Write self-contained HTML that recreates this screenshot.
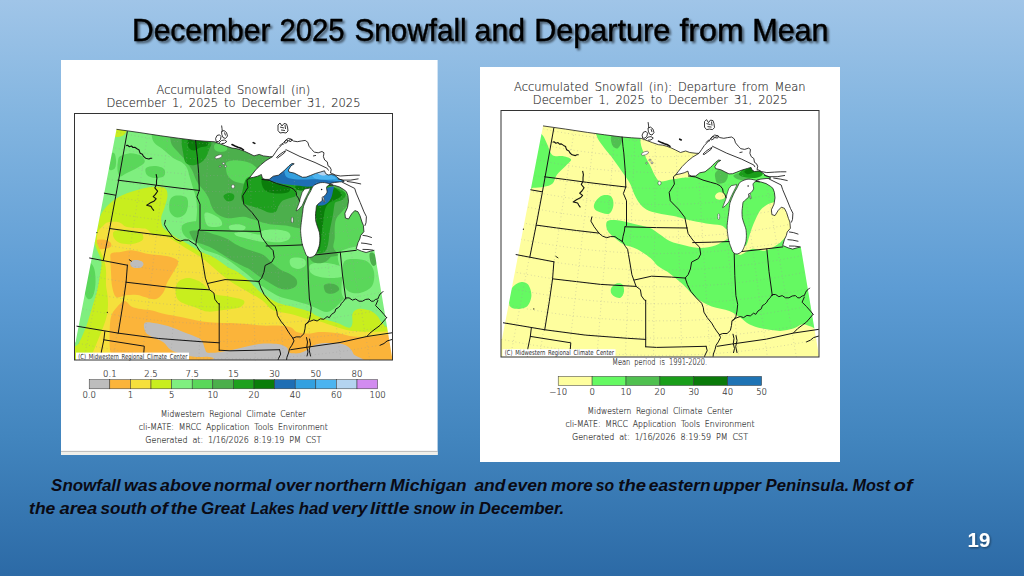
<!DOCTYPE html>
<html><head><meta charset="utf-8"><title>December 2025 Snowfall and Departure from Mean</title>
<style>
html,body{margin:0;padding:0;width:1024px;height:576px;overflow:hidden;background:#5a8fc8}
svg{display:block}
.g{font-family:"DejaVu Sans",sans-serif;font-weight:200;fill:#111;stroke:#444;stroke-width:0.16px;word-spacing:2.5px}
</style></head><body>
<svg width="1024" height="576" viewBox="0 0 1024 576">
<defs>
 <linearGradient id="bg" x1="0" y1="0" x2="0" y2="1">
  <stop offset="0" stop-color="#a0c5e8"/>
  <stop offset="0.2" stop-color="#83b5e0"/>
  <stop offset="0.5" stop-color="#5d9cd4"/>
  <stop offset="0.76" stop-color="#4285be"/>
  <stop offset="1" stop-color="#2c6aa6"/>
 </linearGradient>
 <filter id="tsh" x="-5%" y="-30%" width="110%" height="160%">
  <feGaussianBlur in="SourceAlpha" stdDeviation="1"/>
  <feOffset dx="1.5" dy="1.5" result="b"/>
  <feFlood flood-color="#000" flood-opacity="0.55"/>
  <feComposite in2="b" operator="in"/>
  <feMerge><feMergeNode/><feMergeNode in="SourceGraphic"/></feMerge>
 </filter>
 <filter id="nsh" x="-20%" y="-20%" width="140%" height="140%">
  <feGaussianBlur in="SourceAlpha" stdDeviation="0.8"/>
  <feOffset dx="1" dy="1" result="b"/>
  <feFlood flood-color="#000" flood-opacity="0.45"/>
  <feComposite in2="b" operator="in"/>
  <feMerge><feMergeNode/><feMergeNode in="SourceGraphic"/></feMerge>
 </filter>
</defs>
<rect width="1024" height="576" fill="url(#bg)"/>

<!-- slide title -->
<g id="title" font-family="Liberation Sans, sans-serif" font-size="30.5" fill="#000" stroke="#000" stroke-width="0.45" filter="url(#tsh)">
<text x="132.00" y="40.6" textLength="138.40" lengthAdjust="spacingAndGlyphs">December</text>
<text x="279.40" y="40.6" textLength="65.20" lengthAdjust="spacingAndGlyphs">2025</text>
<text x="354.40" y="40.6" textLength="112.20" lengthAdjust="spacingAndGlyphs">Snowfall</text>
<text x="474.60" y="40.6" textLength="50.40" lengthAdjust="spacingAndGlyphs">and</text>
<text x="534.20" y="40.6" textLength="136.00" lengthAdjust="spacingAndGlyphs">Departure</text>
<text x="679.40" y="40.6" textLength="64.40" lengthAdjust="spacingAndGlyphs">from</text>
<text x="752.20" y="40.6" textLength="76.40" lengthAdjust="spacingAndGlyphs">Mean</text>
</g>

<!-- LEFT PANEL -->
<rect x="61" y="60" width="376.6" height="395" fill="#fff"/>
<rect x="61" y="450.9" width="376.6" height="0.9" fill="#a4a4a4"/>
<rect x="61" y="451.8" width="376.6" height="3.1" fill="#efefea"/>
<text class="g" x="156.6" y="94.3" font-size="12.8" textLength="153.7" lengthAdjust="spacingAndGlyphs">Accumulated Snowfall (in)</text>
<text class="g" x="106.4" y="106.7" font-size="12.8" textLength="254.1" lengthAdjust="spacingAndGlyphs">December 1, 2025 to December 31, 2025</text>
<g id="mapL"><clipPath id="mLc"><path d="M116.5,129.3 139.1,132.5 160.8,135.8 178.2,138.2 195.6,140.4 205,141.2 214.6,141.8 220.6,144 225.8,146 232,148.1 236.3,148.6 240.4,149.7 244.6,151.3 248.8,153.3 254,155.9 259.2,154.4 263.3,155.9 269.6,156.7 272.5,156.7 266,160.6 260.8,164.8 255.6,170 251.5,175.2 249.4,178.1 253.5,177.3 257.7,176.2 261.4,174.5 262.4,178.3 265,179.4 269.2,179.4 273.3,176.2 278.5,175.2 283.8,171 285.8,169 289,165.8 292,163.5 294.2,163.8 291,165.8 288.4,170 289,172 294.2,173.1 298.3,175.2 302.5,177.3 306.2,177.1 310.4,175.5 315.6,173.4 320.8,171.9 324.5,170.8 325.5,173.4 328.1,175 331.2,174.5 334.4,175 336.5,176.6 339.6,179.2 343.8,180.7 344,181.8 339.6,181.9 334.4,182.5 330.2,183.4 329.5,184.8 334.4,185.4 339.6,187 343.8,189.6 346.4,191.7 347.9,195.8 348.5,201.2 347.5,207.5 344.9,213.2 345.4,218 348.5,219 351.7,213.8 354.8,210.6 357.9,211.7 360,215.8 362,222 363.4,225.4 363.9,231.7 360.7,235.4 359.8,239 358,242.6 356.2,248.9 361.6,251.2 366.1,252.5 370.6,251.2 374.3,250.3 392.3,358.5 392.5,360.5 74.5,360.5 74.5,342.5 75.5,342.5Z"/></clipPath>
<clipPath id="mLf"><rect x="74.5" y="113.5" width="318" height="246.6"/></clipPath>
<g clip-path="url(#mLf)">
<rect x="70" y="110" width="330" height="255" fill="#fbb43a"/>
<path d="M144.3,323.5C145.4,321.9 148.1,322.3 152,322.7C155.9,323.1 162.7,324.4 168,326C173.3,327.6 179.5,330.6 184,332.3C188.5,334.1 192.3,335.4 195,336.5C197.7,337.6 198.6,337.7 199.9,338.7C201.2,339.7 202,341 202.8,342.6C203.6,344.2 204.1,346.8 204.8,348.4C205.5,350 205.8,351.8 207,352.5C208.2,353.2 210.1,352.8 212,352.8C213.9,352.8 214.7,352.9 218.4,352.3C222.1,351.7 228.9,350.4 234,349.4C239.1,348.3 243.8,347 248.7,346C253.6,345 258.5,343.9 263.4,343.6C268.3,343.3 274.1,343.4 278,344C281.9,344.6 285,346.1 286.8,347.5C288.6,348.9 287.8,351.3 288.8,352.3C289.7,353.3 290.8,353.2 292.7,353.3C294.6,353.4 297.6,353.6 300,353C302.4,352.4 304.7,351.3 307,350C309.3,348.7 310.8,346.4 313.8,345.3C316.8,344.2 320.5,343.4 324.9,343.1C329.3,342.8 336.3,342.8 340.3,343.5C344.3,344.2 346.9,345.7 349.1,347.5C351.3,349.3 352.6,351.4 353.5,354.1C354.4,356.9 377.9,362.4 354.6,364C331.4,365.6 237.4,364.9 214,364C190.6,363.1 215.2,359.7 214,358.5C212.8,357.3 209.8,357.1 207,356.8C204.2,356.6 200.8,357.3 197,357C193.2,356.7 188.3,356.2 184,355C179.7,353.8 174.5,352.2 171,350C167.5,347.8 166.2,344.2 163,342C159.8,339.8 154.9,338.6 152,337C149.1,335.4 146.9,334.6 145.6,332.3C144.3,330.1 143.2,325.1 144.3,323.5Z" fill="#bdbdbd"/>
<path d="M60,365C68.7,410.8 103.7,367.5 112,365C120.3,362.5 110.4,355 110,350C109.6,345 109.4,340.4 109.6,335C109.8,329.6 109.8,321.8 110.9,317.3C112,312.8 114.1,310.5 116.4,307.8C118.7,305.1 122.1,301.2 124.6,301C127.1,300.8 128.7,305 131.4,306.4C134.1,307.8 137.6,308.4 141,309.1C144.4,309.8 148.6,309.8 152,310.5C155.4,311.2 157.6,312.3 161.5,313.2C165.4,314.1 170.6,315.1 175.2,316C179.8,316.9 184.3,317.8 188.9,318.7C193.5,319.6 197.9,320.7 202.5,321.4C207.1,322.1 211.4,322.5 216.2,322.8C221,323.1 226.1,322.8 231.2,323C236.4,323.2 241.7,323.6 246.9,324C252.1,324.4 257.3,325.3 262.5,325.6C267.7,325.9 273.4,325.3 278.1,325.6C282.8,325.9 287.5,326.1 290.6,327.2C293.7,328.2 293.8,330.9 296.9,331.9C300,332.9 305.5,333.4 309.4,333.4C313.2,333.4 315.2,331.9 320,331.9C324.8,331.9 332.5,332.4 338.1,333.2C343.7,334 348,335.9 353.5,336.5C359,337.1 364.8,336.9 371.2,336.5C377.6,336.1 382.2,334.7 392,334.3C401.8,333.9 423.7,374.7 430,334C436.3,293.3 491.7,130.7 430,90C368.3,49.3 121.7,44.2 60,90C-1.7,135.8 51.3,319.2 60,365Z" fill="#f5e03c"/>
<path d="M111.2,253.4C112.9,252.1 117.2,252.4 120.6,251.9C124,251.4 127.4,250.1 131.6,250.3C135.8,250.6 141.2,252.6 145.6,253.4C150,254.2 154.1,254.5 158,255C161.9,255.5 165.8,255.8 169,256.6C172.2,257.4 175.4,258.5 176.9,259.7C178.4,260.9 178.4,262 177.8,264C177.2,266 175.4,268.7 173.6,271.8C171.8,274.9 169,278.9 167.2,282.4C165.4,285.9 165.1,290.2 163,293C160.9,295.8 158.7,298.9 154.5,299.3C150.3,299.7 142.2,295.8 137.6,295.1C133,294.4 130.5,294.8 127,295.1C123.5,295.5 118.9,298.6 116.4,297.2C113.9,295.8 113,290.8 112.1,286.6C111.2,282.4 111.3,276.2 111,271.8C110.7,267.4 110.5,263.1 110.5,260C110.5,256.9 109.6,254.8 111.2,253.4Z" fill="#fbb43a"/>
<path d="M95,241C96,239.5 100.5,239.3 103,239.5C105.5,239.7 108.7,240.8 110,242C111.3,243.2 111.8,245.4 111,246.5C110.2,247.6 107.3,248.5 105,248.8C102.7,249.1 98.7,249.8 97,248.5C95.3,247.2 94,242.5 95,241Z" fill="#fbb43a"/>
<path d="M130.5,262C131.2,261 133.2,260.2 135,260C136.8,259.8 139.6,260.3 141,261C142.4,261.7 143.5,262.9 143.5,264C143.5,265.1 142.4,266.8 141,267.5C139.6,268.2 136.7,268.2 135,268C133.3,267.8 131.8,267 131,266C130.2,265 129.8,263 130.5,262Z" fill="#bdbdbd"/>
<path d="M60,365C65,410.8 84.7,366.7 90,365C95.3,363.3 91,358.3 92,355C93,351.7 94.7,348.3 96,345C97.3,341.7 98.7,338.3 100,335C101.3,331.7 102.8,328.3 104,325C105.2,321.7 106.3,318.3 107,315C107.7,311.7 107.9,308.3 108,305C108.1,301.7 107.8,298.3 107.5,295C107.2,291.7 106.2,289.2 106,285C105.8,280.8 106.3,274.2 106,270C105.7,265.8 105,263.3 104,260C103,256.7 101.2,253 100,250C98.8,247 97.3,245 97,242C96.7,239 97,234.7 98,232C99,229.3 101.3,227.6 103,226C104.7,224.4 105.4,222.8 108.1,222.2C110.8,221.6 115.9,221.4 119,222.2C122.1,223 123,225.9 126.9,226.9C130.8,227.9 139.1,228 142.5,228.4C145.9,228.8 145.4,228.4 147.2,229.5C149,230.6 150.3,233.6 153.4,234.7C156.5,235.8 162.1,234.9 166,236.2C169.9,237.6 173,240.2 176.9,242.5C180.8,244.8 185.6,248 189.4,250.3C193.2,252.7 197.2,254.7 200,256.6C202.8,258.5 203.9,259.4 206.5,261.5C209.1,263.6 211.5,266 215.6,269.4C219.7,272.8 226,278.3 231.2,281.9C236.5,285.5 241.7,288.1 246.9,291.2C252.1,294.4 258.6,297.7 262.5,300.6C266.4,303.5 267.7,306.6 270.3,308.4C272.9,310.2 274.2,310.6 278.1,311.6C282,312.7 288.5,313.4 293.8,314.7C299,316 305,318.3 309.4,319.4C313.8,320.5 315.7,320.3 320,321.5C324.3,322.7 330.2,325 335,326.5C339.8,328 344.8,329.7 349,330.5C353.2,331.3 356.3,331.3 360,331.5C363.7,331.7 365.7,331.8 371,331.8C376.3,331.8 382.2,331.6 392,331.5C401.8,331.4 423.7,371.2 430,331C436.3,290.8 491.7,130.2 430,90C368.3,49.8 121.7,44.2 60,90C-1.7,135.8 55,319.2 60,365Z" fill="#c8ee1e"/>
<path d="M114,231.5C115.8,230.1 121.5,229.6 125,229.5C128.5,229.4 132.2,230.2 135,231C137.8,231.8 140.8,232.5 142,234C143.2,235.5 144.2,238.3 142.5,240C140.8,241.7 135.8,243.5 132,244C128.2,244.5 123,244 120,243C117,242 115,239.9 114,238C113,236.1 112.2,232.9 114,231.5Z" fill="#c8ee1e"/>
<path d="M177.8,282.4C179.9,279.9 184.5,278.1 188.4,278.1C192.3,278.1 197.8,280.6 201.1,282.4C204.4,284.2 205.6,287 208,289C210.4,291 211.7,293.2 215.6,294.5C219.5,295.8 226.6,296 231.2,297C235.9,298 242.2,299 243.8,300.6C245.3,302.2 244,305.3 240.6,306.9C237.2,308.5 228.9,309.2 223.4,310C217.9,310.8 212.2,311.9 207.8,311.6C203.4,311.3 201.5,309.7 196.9,308C192.3,306.3 183.5,304 180,301.5C176.5,299 176.1,296.2 175.7,293C175.3,289.8 175.7,284.9 177.8,282.4Z" fill="#c8ee1e"/>
<path d="M60,350C62.6,392.7 72.1,347.7 75.5,346C78.9,344.3 78.5,343.5 80.4,340C82.3,336.5 84.9,330 86.7,325C88.5,320 90,314.5 91.4,310C92.8,305.5 94,301.3 95,298C96,294.7 96.5,293.8 97.3,290C98.1,286.2 99.3,279.7 100,275C100.7,270.3 101.8,265.8 101.5,262C101.2,258.2 99.1,255 98,252C96.9,249 95.3,246.8 95,244C94.7,241.2 95.5,238 96,235C96.5,232 97.3,229.2 98,226C98.7,222.8 98.9,219.1 100.3,215.9C101.7,212.7 104,209.5 106.6,206.6C109.2,203.7 112.5,201 115.9,198.8C119.3,196.5 123,194.9 126.9,193.3C130.8,191.7 135.2,190.5 139.4,189.4C143.6,188.3 147.7,187.3 151.9,187C156.1,186.7 161.8,186.4 164.4,187.8C167,189.2 167.5,192.2 167.5,195.6C167.5,199 165.4,204.4 164.4,208.1C163.4,211.8 161.5,214.4 161.2,217.5C161,220.6 161.3,224.3 162.8,226.9C164.3,229.5 167.8,231.5 170,233.3C172.2,235.1 173.7,235.9 176.2,237.5C178.8,239.1 182.3,240.8 185.6,242.7C188.9,244.6 193.2,247.3 196,249C198.8,250.7 199.7,251.4 202.3,252.6C204.9,253.8 208.8,254.8 211.7,256.2C214.6,257.7 217.2,259.6 220,261.5C222.8,263.4 225.5,265.8 228.3,267.5C231.1,269.2 233.6,269.6 236.7,271.5C239.8,273.4 243.8,276.4 246.9,279C250,281.6 252.4,284.6 255,287C257.6,289.4 258.6,290.8 262.5,293.5C266.4,296.2 272.9,300.8 278.1,303C283.3,305.2 288.5,305.5 293.8,306.9C299,308.3 305.7,310.2 309.4,311.6C313.1,313 313.1,314.1 316,315.5C318.9,316.9 323.3,318.7 327,320C330.7,321.3 334.4,321.9 338.1,323.2C341.8,324.5 346.7,327.7 349.1,327.7C351.5,327.7 351.8,325.4 352.4,323.2C352.9,321 351.8,316.6 352.4,314.4C352.9,312.2 354,310.9 355.7,310C357.4,309.1 359.8,308.7 362.4,308.9C365,309.1 368.6,309.8 371.2,311.1C373.8,312.4 376,314.6 377.8,316.6C379.6,318.6 379.8,321.3 382.2,323.2C384.6,325.1 384,327.2 392,328C400,328.8 423.7,367.7 430,328C436.3,288.3 491.7,129.7 430,90C368.3,50.3 121.7,46.7 60,90C-1.7,133.3 57.4,307.3 60,350Z" fill="#7fef7f"/>
<path d="M112,127C114.3,126 123.8,127 126,128C128.2,129 126.2,131.7 125.5,133C124.8,134.3 123.6,135.3 122,136C120.4,136.7 117.7,137.3 116,137C114.3,136.7 112.7,135.7 112,134C111.3,132.3 109.7,128 112,127Z" fill="#c8ee1e"/>
<path d="M151.9,125C151.9,132.8 151.4,133.8 151.9,136.8C152.4,139.9 153.3,141.5 154.8,143.3C156.2,145.1 158.3,145.9 160.5,147.6C162.7,149.3 165.3,151.5 167.7,153.4C170.1,155.3 172.6,157.6 175,159.1C177.4,160.6 180,161 182,162.5C184,164 185.7,165.4 187,168C188.3,170.6 189,174.7 190,178C191,181.3 192,184.7 193,188C194,191.3 195.3,194.3 196,198C196.7,201.7 197,206 197,210C197,214 196.5,218.3 196,222C195.5,225.7 194,229 194,232C194,235 195.1,237.7 196,240C196.9,242.3 197.8,244.1 199.2,245.8C200.6,247.5 202,248.8 204.4,250C206.8,251.2 210.8,252 213.8,253.1C216.7,254.2 219.1,255 222,256.5C224.9,258 228.2,260.1 231,262C233.8,263.9 236.3,266 239,268C241.7,270 244.2,271.8 246.9,274C249.6,276.2 252.4,278.9 255,281C257.6,283.1 258.6,284.1 262.5,286.6C266.4,289.1 272.9,293.7 278.1,296C283.3,298.3 288.5,299.1 293.8,300.6C299,302.2 305.4,303.9 309.4,305.3C313.4,306.7 315.1,307.9 318,309C320.9,310.1 324,312.3 327,312C330,311.7 333.2,309.2 336,307C338.8,304.8 341.1,301.1 344,299C346.9,296.9 349.7,296.1 353.5,294.6C357.3,293.1 362.8,291.5 366.8,290C370.9,288.5 373.6,286 377.8,285.7C382,285.4 383.3,287.6 392,288C400.7,288.4 423.7,321 430,288C436.3,255 476.4,123 430,90C383.6,57 198.2,84.2 151.9,90C105.6,95.8 151.9,117.2 151.9,125Z" fill="#5ad75a"/>
<path d="M120,156.3C121.8,155 126.1,153.8 128.8,153.4C131.5,153 133.8,153.5 136,154C138.2,154.5 140.4,155 141.8,156.3C143.2,157.6 145.4,160.1 144.7,162C144,163.9 140.5,165.9 137.4,167.8C134.3,169.7 128.8,172.2 125.9,173.6C123,175 121.5,177 120.1,176.4C118.7,175.8 117.8,172.6 117.5,170C117.2,167.4 117.6,163.3 118,161C118.4,158.7 118.2,157.6 120,156.3Z" fill="#5ad75a"/>
<path d="M109,155C110.2,153.3 112.8,152.2 114,153C115.2,153.8 115.8,157.5 116,160C116.2,162.5 116,166.3 115,168C114,169.7 111.3,170.8 110,170C108.7,169.2 107.2,165.5 107,163C106.8,160.5 107.8,156.7 109,155Z" fill="#5ad75a"/>
<path d="M146,168C147.3,166.5 152,165.8 155,166C158,166.2 162.5,167.3 164,169C165.5,170.7 165.5,174.5 164,176C162.5,177.5 157.8,178.2 155,178C152.2,177.8 148.5,176.7 147,175C145.5,173.3 144.7,169.5 146,168Z" fill="#5ad75a"/>
<path d="M170,200C171,197.3 173.3,196.1 176,195.6C178.7,195.1 184,195.4 186,197C188,198.6 188.2,202.2 188,205C187.8,207.8 186.8,211.9 185,214C183.2,216.1 179.5,217.8 177,217.5C174.5,217.2 171.2,214.9 170,212C168.8,209.1 169,202.7 170,200Z" fill="#5ad75a"/>
<path d="M182,226C183,223.8 187,222.5 190,222C193,221.5 198.3,220.3 200,223C201.7,225.7 201.3,235.2 200,238C198.7,240.8 194.7,240.5 192,240C189.3,239.5 185.7,237.3 184,235C182.3,232.7 181,228.2 182,226Z" fill="#5ad75a"/>
<path d="M88,262C89.7,261.3 92.8,264.5 94,268C95.2,271.5 95.7,278.3 95.5,283C95.3,287.7 94.2,293.3 93,296C91.8,298.7 89.5,300 88,299C86.5,298 84.7,294.5 84,290C83.3,285.5 83.3,276.7 84,272C84.7,267.3 86.3,262.7 88,262Z" fill="#5ad75a"/>
<path d="M262,231C264.2,229.8 270.7,229.3 275,229.5C279.3,229.7 285.5,230.6 288,232C290.5,233.4 291,236.3 290,238C289,239.7 285.7,241.4 282,242C278.3,242.6 271.3,242.3 268,241.5C264.7,240.7 263,238.8 262,237C261,235.2 259.8,232.2 262,231Z" fill="#7fef7f"/>
<path d="M290.3,259C291.5,257.6 295.6,257.3 298,257.5C300.4,257.7 303.8,258.6 305,260C306.2,261.4 306.2,264.5 305,266C303.8,267.5 300.3,268.9 298,268.9C295.7,268.9 292.3,267.6 291,266C289.7,264.4 289.1,260.4 290.3,259Z" fill="#7fef7f"/>
<path d="M264,234C263,233 276.3,231.3 280,232C283.7,232.7 288.7,237.7 286,238C283.3,238.3 265,235 264,234Z" fill="#7fef7f"/>
<path d="M189.8,231.2C190.8,230.4 194.5,230.4 197,230.5C199.5,230.6 202.4,231 205,231.6C207.6,232.2 210.2,233.1 212.8,233.9C215.4,234.7 218,235.3 220.6,236.2C223.2,237.2 225.8,238 228.4,239.4C231,240.8 233.2,243 236,244.5C238.8,246 242.2,247.4 245,248.5C247.8,249.6 249.3,249.9 252.5,251C255.7,252.1 260.5,253 263.9,255.2C267.3,257.4 270.1,261.4 273.1,264C276.1,266.6 279.2,268.8 282,270.5C284.8,272.2 287.6,272.5 290,274C292.4,275.5 295.5,277.5 296.5,279.5C297.5,281.5 297.4,284.3 296,286C294.6,287.7 290.7,289.1 288,289.5C285.3,289.9 282.5,289.2 280,288.5C277.5,287.8 276.2,286.7 273.1,285C270,283.3 265.5,280.7 261.6,278.1C257.8,275.5 252.8,271.4 250,269.5C247.2,267.6 247.8,268.4 245,267C242.2,265.6 236.3,262.8 233,261C229.7,259.2 228.6,258.2 225,256C221.4,253.8 215.7,250 211.7,248C207.7,246 204,244.8 201.2,243.8C198.5,242.7 196.7,243.1 195,241.7C193.3,240.3 191.7,237.1 190.8,235.4C189.9,233.7 188.8,232.1 189.8,231.2Z" fill="#4caf4c"/>
<path d="M168,125C146.3,127.1 169.3,134.2 170,137.5C170.7,140.8 170.7,142.6 172,145C173.3,147.4 175.8,149.5 178,152C180.2,154.5 182.7,157 185,160C187.3,163 190.2,166.7 192,170C193.8,173.3 194.7,177.3 196,180C197.3,182.7 198.5,184 200,186C201.5,188 203.5,189.8 205,192C206.5,194.2 208,196.8 209,199C210,201.2 210.1,203 211,205C211.9,207 212.8,209.4 214.4,211.2C216,213.1 218.3,214.8 220.6,216C222.9,217.2 225.8,218.1 228.4,218.3C231,218.6 233.7,217.8 236.2,217.5C238.8,217.2 241.4,216.4 244,216.7C246.6,216.9 249.4,218.2 252,219C254.6,219.8 257.5,220.7 259.7,221.4C261.9,222.1 262.9,222.5 265,223C267.1,223.5 268.6,224.1 272,224.5C275.4,224.9 281,225 285.6,225.6C290.2,226.2 296.2,228.4 299.4,228.3C302.6,228.2 304.1,234.7 305,225C305.9,215.3 305.8,186.7 305,170C304.2,153.3 322.8,132.5 300,125C277.2,117.5 189.7,122.9 168,125Z" fill="#4caf4c"/>
<path d="M314,200C317.3,192.7 325.7,188.2 330,186C334.3,183.8 337.1,185.2 340,187C342.9,188.8 345.8,193.9 347.2,196.7C348.6,199.5 349.5,201 348.6,203.6C347.7,206.2 343.8,209.4 341.7,212C339.6,214.6 337.3,216.1 336.1,218.9C334.9,221.7 334.9,225.4 334.7,228.6C334.5,231.8 334.9,235.3 334.7,238.3C334.5,241.3 333.1,244.4 333.3,246.7C333.5,249 335.7,250.6 336.1,252.2C336.6,253.8 340.4,255.4 336,256C331.6,256.6 314.3,260.3 310,256C305.7,251.7 309.3,239.3 310,230C310.7,220.7 310.7,207.3 314,200Z" fill="#4caf4c"/>
<path d="M227,162C229,160.7 234.2,160.2 238,160.4C241.8,160.6 246.7,161.4 250,163C253.3,164.6 257,167.5 258,170C259,172.5 257.7,175.8 256,178C254.3,180.2 251.3,182.6 248,183.3C244.7,184 239.3,183.2 236,182C232.7,180.8 229.7,178.3 228,176C226.3,173.7 226.2,170.3 226,168C225.8,165.7 225,163.3 227,162Z" fill="#5ad75a"/>
<path d="M214.6,144.5C215.4,143.5 218.1,143.6 220,143.8C221.9,143.9 224.8,144.5 226,145.5C227.2,146.5 227.8,148.9 227,150C226.2,151.1 223,152 221,152C219,152 216.1,151.2 215,150C213.9,148.8 213.8,145.5 214.6,144.5Z" fill="#5ad75a"/>
<path d="M205,213C206.2,212 209.5,213 212,214C214.5,215 218.3,217.2 220,219C221.7,220.8 222.7,223.7 222,225C221.3,226.3 218.3,226.8 216,227C213.7,227.2 209.8,227.2 208,226C206.2,224.8 205.5,222.2 205,220C204.5,217.8 203.8,214 205,213Z" fill="#7fef7f"/>
<path d="M229.2,226C229.9,225.2 232,224.7 234,224.5C236,224.3 239.1,224.3 241,224.7C242.9,225.1 245.3,226 245.6,227C245.9,228 244.6,229.9 243,230.5C241.4,231.1 238.2,231 236,230.8C233.8,230.6 231.1,230.3 230,229.5C228.9,228.7 228.5,226.8 229.2,226Z" fill="#7fef7f"/>
<path d="M234.7,233C236,232.3 241.6,231.8 245,232C248.4,232.2 251.7,233.3 255,234C258.3,234.7 263.3,234.7 265,236C266.7,237.3 266.7,240.9 265,241.7C263.3,242.4 258.3,241.1 255,240.5C251.7,239.9 248,238.8 245,238C242,237.2 238.7,236.8 237,236C235.3,235.2 233.4,233.7 234.7,233Z" fill="#7fef7f"/>
<path d="M324,285.5C324.7,284 327.8,283.5 330,283.5C332.2,283.5 335.5,284.4 337,285.5C338.5,286.6 339.7,288.7 339,290C338.3,291.3 335.2,293.1 333,293.5C330.8,293.9 327.5,293.8 326,292.5C324.5,291.2 323.3,287 324,285.5Z" fill="#4caf4c"/>
<path d="M341,253C342.7,251.5 350.5,252.2 355,252C359.5,251.8 365.5,250.3 368,252C370.5,253.7 371.8,260.1 370,262C368.2,263.9 361.2,263.7 357,263.5C352.8,263.3 347.7,262.8 345,261C342.3,259.2 339.3,254.5 341,253Z" fill="#7fef7f"/>
<path d="M310,265C311.5,263.2 316.2,262.7 320,262.5C323.8,262.3 329.2,263.1 333,264C336.8,264.9 341.3,266 343,268C344.7,270 344.7,274.3 343,276C341.3,277.7 336.8,277.8 333,278C329.2,278.2 323.7,277.8 320,277C316.3,276.2 312.7,275 311,273C309.3,271 308.5,266.8 310,265Z" fill="#7fef7f"/>
<path d="M310,252.5C311.3,251.3 315,252 318,251.8C321,251.7 325.8,250.9 328,251.6C330.2,252.3 331.5,254.3 331,256C330.5,257.7 327.5,260.8 325,262C322.5,263.2 318.5,263.5 316,263C313.5,262.5 311,260.8 310,259C309,257.2 308.7,253.7 310,252.5Z" fill="#4caf4c"/>
<path d="M340,252C345.7,247.7 368.3,242.3 376,249C383.7,255.7 385.3,283.3 386,292C386.7,300.7 386.8,299.8 380,301C373.2,302.2 351.3,303.3 345,299C338.7,294.7 342.8,282.8 342,275C341.2,267.2 334.3,256.3 340,252Z" fill="#7fef7f"/>
<path d="M344,262C346.2,258.5 352,259 356,259C360,259 365,259.8 368,262C371,264.2 373.3,268 374,272C374.7,276 374.3,282.5 372,286C369.7,289.5 364,292.2 360,293C356,293.8 350.8,293.2 348,291C345.2,288.8 343.7,284.8 343,280C342.3,275.2 341.8,265.5 344,262Z" fill="#5ad75a"/>
<path d="M369.5,254C369.8,252.4 371.5,252.2 372.5,252.5C373.5,252.8 374.8,254.2 375.5,256C376.2,257.8 376.8,261.3 376.5,263C376.2,264.7 374.5,266.2 373.5,266C372.5,265.8 371.2,264 370.5,262C369.8,260 369.2,255.6 369.5,254Z" fill="#4caf4c"/>
<path d="M182,139C183.2,136.9 185.3,139.1 190,139.5C194.7,139.9 206.8,139.8 210,141.5C213.2,143.2 210,146.9 209,150C208,153.1 206.3,157.5 204,160C201.7,162.5 198,164.5 195,165C192,165.5 188,165.2 186,163C184,160.8 183.7,156 183,152C182.3,148 180.8,141.1 182,139Z" fill="#1ea01e"/>
<path d="M223.5,196C223.8,194.7 227.2,193.2 229,193C230.8,192.8 233.3,193.8 234,195C234.7,196.2 234.2,199 233,200C231.8,201 228.6,201.7 227,201C225.4,200.3 223.2,197.3 223.5,196Z" fill="#1ea01e"/>
<path d="M241.1,197.8C240.9,195.7 241.6,194.1 242.5,190.8C243.4,187.6 244.1,180.8 246.7,178.3C249.2,175.8 254.1,175.1 257.8,175.6C261.5,176.1 264.7,179.5 268.9,181.1C273.1,182.7 278.4,184.2 282.8,185.3C287.2,186.5 293,186.4 295.3,188C297.6,189.6 297.4,193.4 296.7,195C296,196.6 293.4,196.9 291.1,197.8C288.8,198.7 284.9,199.2 282.8,200.6C280.7,202 279.8,204.2 278.6,206.1C277.4,207.9 277.4,210.6 275.8,211.7C274.2,212.8 271.4,212.9 268.9,212.4C266.4,211.9 263.6,210 260.6,208.9C257.6,207.8 253.6,207 250.8,206.1C248,205.2 245.5,204.7 243.9,203.3C242.3,201.9 241.3,199.9 241.1,197.8Z" fill="#1ea01e"/>
<path d="M265,175C270.3,173.2 289.2,172 300,172C310.8,172 323.3,173.3 330,175C336.7,176.7 340,180.2 340,182C340,183.8 335,185 330,186C325,187 315.8,187.3 310,188C304.2,188.7 300,190 295,190C290,190 284.5,189.2 280,188C275.5,186.8 270.5,185.2 268,183C265.5,180.8 259.7,176.8 265,175Z" fill="#1ea01e"/>
<path d="M327.8,187C331.5,186.1 337.3,188.5 340.3,189.7C343.3,190.8 345.4,192.3 345.8,193.9C346.2,195.5 344.6,198.1 343,199.4C341.4,200.8 337.4,201.1 336,202C334.6,202.9 334.9,202.7 334.4,205C333.9,207.3 333.6,211.2 332.8,215.6C332,220 330.5,226.6 329.7,231.2C328.9,235.9 328.9,240.4 328.1,243.8C327.3,247.1 326.7,250.1 325,251.6C323.3,253.1 319.5,254.1 318,253C316.5,251.9 316.7,252.2 316,245C315.3,237.8 313.7,218.3 314,210C314.3,201.7 315.7,198.8 318,195C320.3,191.2 324.1,187.9 327.8,187Z" fill="#1ea01e"/>
<path d="M188,140C188.9,138.7 192.9,140 194.4,140.2C195.9,140.4 194.8,140.8 197,141C199.2,141.2 205.7,140.7 207.4,141.5C209.1,142.3 208.2,145 207,146C205.8,147 202.1,146.8 200,147.5C197.9,148.2 196.2,150.4 194.4,150.5C192.6,150.6 190.1,149.8 189,148C187.9,146.2 187.1,141.3 188,140Z" fill="#0a7d0a"/>
<path d="M262,179.7C263.4,178.8 268.2,181.4 271.7,182.5C275.2,183.6 279.8,185.1 282.8,186C285.8,186.9 288.8,187 289.7,188C290.6,189 290.1,191.3 288.3,192.2C286.5,193.1 281.8,193.6 278.6,193.6C275.4,193.6 271.4,193.1 268.9,192.2C266.3,191.3 264.4,190.1 263.3,188C262.2,185.9 260.6,180.6 262,179.7Z" fill="#0a7d0a"/>
<path d="M316.7,205C317.1,202.2 316.1,200.8 318,198C319.9,195.2 325.2,190.1 327.8,188.3C330.4,186.5 331.5,186.5 333.3,187C335.1,187.5 337.5,189.7 338.9,191.1C340.3,192.5 342.2,193.9 341.7,195.3C341.2,196.7 338.2,198.2 336.1,199.5C334,200.8 330.9,201.3 329,203C327.1,204.7 325.9,206.5 325,209.4C324.1,212.3 323.9,216.7 323.4,220.3C322.9,223.9 322.3,227.9 321.9,231.2C321.5,234.6 321.4,238 321.1,240.6C320.8,243.2 320.7,245.2 320.3,246.9C319.9,248.6 319.1,250.3 318.5,251C317.9,251.7 316.8,252.8 316.5,251C316.2,249.2 316.7,244.9 316.7,240C316.7,235.1 316.9,225.9 316.7,221.7C316.5,217.5 315.3,217.5 315.3,214.7C315.3,211.9 316.2,207.8 316.7,205Z" fill="#0a7d0a"/>
<path d="M296,186C298,185.2 305.2,185.3 310,185C314.8,184.7 321.7,183.8 325,184C328.3,184.2 332.5,185 330,186C327.5,187 315.3,189.3 310,190C304.7,190.7 300.3,190.7 298,190C295.7,189.3 294,186.8 296,186Z" fill="#0a7d0a"/>
<path d="M268.5,176C267.4,178.4 266.8,178.3 268.1,179.4C269.4,180.5 273.4,181.6 276.5,182.5C279.6,183.4 283.4,184.1 286.9,184.6C290.4,185.1 293.8,185.2 297.3,185.6C300.8,185.9 303.9,186.7 307.7,186.7C311.5,186.7 316.3,186 320,185.6C323.7,185.2 325.8,184.4 330,184C334.2,183.6 342.5,186.2 345,183C347.5,179.8 356.7,168 345,165C333.3,162 287.8,163.2 275,165C262.2,166.8 269.6,173.6 268.5,176Z" fill="#1e6eb4"/>
<path d="M317.8,204.7C317.3,203.8 318.5,201.4 319,200C319.5,198.6 320.4,197.7 321,196.5C321.6,195.3 321.9,194.1 322.5,193C323.1,191.9 323.8,190.8 324.5,190C325.2,189.2 326.1,188.5 327,188C327.9,187.5 328.9,187.2 330,187C331.1,186.8 333.2,186.1 333.8,186.7C334.2,187.3 333.3,189.2 333,190.8C332.7,192.4 332.3,194.8 331.7,196.4C331.1,198 330.5,199.3 329.6,200.6C328.7,201.9 327.4,203.2 326.1,204C324.8,204.8 323.4,205.3 322,205.4C320.6,205.5 318.3,205.6 317.8,204.7Z" fill="#1e6eb4"/>
<path d="M281,160C270.8,161.5 282.8,166.1 283.8,169C284.7,171.9 284.6,175.6 286.9,177.3C289.2,179 293.8,179.1 297.3,179.4C300.8,179.8 303.9,179.4 307.7,179.4C311.5,179.4 315.9,179.2 320,179.4C324.1,179.6 327.8,180.4 332,180.5C336.2,180.6 342.8,183.4 345,180C347.2,176.6 355.7,163.3 345,160C334.3,156.7 291.2,158.5 281,160Z" fill="#32a0e0"/>
<path d="M311.5,173C312,171.9 315.8,172.5 318,172C320.2,171.5 322.8,169.5 325,170C327.2,170.5 329.4,173.6 331.2,175C333.1,176.4 337,177.8 336,178.5C335,179.2 328.5,179.5 325,179.5C321.5,179.5 317.2,179.6 315,178.5C312.8,177.4 311,174.1 311.5,173Z" fill="#4cb4f0"/>
<path d="M317.7,173.5C317.4,172.9 319.8,172.5 321,172C322.2,171.5 324,170.2 325,170.5C326,170.8 327.3,173.2 327,174C326.7,174.8 324.6,175.6 323,175.5C321.4,175.4 318,174.1 317.7,173.5Z" fill="#b4d4f0"/>
</g>
<path d="M74.5,113.5H392.5V360.1H74.5Z M116.5,129.3 139.1,132.5 160.8,135.8 178.2,138.2 195.6,140.4 205,141.2 214.6,141.8 220.6,144 225.8,146 232,148.1 236.3,148.6 240.4,149.7 244.6,151.3 248.8,153.3 254,155.9 259.2,154.4 263.3,155.9 269.6,156.7 272.5,156.7 266,160.6 260.8,164.8 255.6,170 251.5,175.2 249.4,178.1 253.5,177.3 257.7,176.2 261.4,174.5 262.4,178.3 265,179.4 269.2,179.4 273.3,176.2 278.5,175.2 283.8,171 285.8,169 289,165.8 292,163.5 294.2,163.8 291,165.8 288.4,170 289,172 294.2,173.1 298.3,175.2 302.5,177.3 306.2,177.1 310.4,175.5 315.6,173.4 320.8,171.9 324.5,170.8 325.5,173.4 328.1,175 331.2,174.5 334.4,175 336.5,176.6 339.6,179.2 343.8,180.7 344,181.8 339.6,181.9 334.4,182.5 330.2,183.4 329.5,184.8 334.4,185.4 339.6,187 343.8,189.6 346.4,191.7 347.9,195.8 348.5,201.2 347.5,207.5 344.9,213.2 345.4,218 348.5,219 351.7,213.8 354.8,210.6 357.9,211.7 360,215.8 362,222 363.4,225.4 363.9,231.7 360.7,235.4 359.8,239 358,242.6 356.2,248.9 361.6,251.2 366.1,252.5 370.6,251.2 374.3,250.3 392.3,358.5 392.5,360.5 74.5,360.5 74.5,342.5 75.5,342.5Z" fill="#fff" fill-rule="evenodd"/>
<g clip-path="url(#mLc)" fill="none" stroke="#9a9a9a" stroke-width="0.8" stroke-dasharray="0.8 2.8" opacity="0.55">
<path d="M-33.7,349.3C-30.2,350.5 -19.8,354 -12.7,356.2C-5.7,358.4 1.4,360.6 8.5,362.6C15.5,364.6 22.7,366.5 29.8,368.4C37,370.2 44.1,371.9 51.3,373.6C58.5,375.2 65.7,376.7 73,378.2C80.2,379.6 87.4,381 94.7,382.2C102,383.5 109.3,384.6 116.6,385.7C123.9,386.7 131.2,387.7 138.5,388.5C145.8,389.4 153.2,390.1 160.5,390.8C167.8,391.4 175.2,392 182.6,392.5C189.9,392.9 197.3,393.3 204.7,393.5C212,393.8 219.4,394 226.8,394C234.2,394.1 241.5,394 248.9,393.9C256.3,393.8 263.6,393.5 271,393.2C278.4,392.9 285.7,392.4 293.1,391.9C300.5,391.4 307.8,390.7 315.1,390C322.5,389.3 329.8,388.4 337.1,387.5C344.4,386.6 351.7,385.6 359,384.4C366.3,383.3 373.6,382.1 380.9,380.8C388.1,379.4 395.3,378 402.6,376.5C409.8,375 417,373.4 424.2,371.7C431.3,370 438.5,368.2 445.6,366.3C452.7,364.4 459.8,362.4 466.9,360.3C474,358.2 484.5,354.8 488,353.7"/>
<path d="M-28,332.6C-24.6,333.7 -14.3,337.2 -7.4,339.3C-0.5,341.5 6.4,343.6 13.3,345.6C20.2,347.5 27.2,349.4 34.2,351.2C41.2,353 48.2,354.7 55.2,356.3C62.3,357.9 69.3,359.4 76.4,360.8C83.5,362.2 90.6,363.5 97.7,364.8C104.8,366 111.9,367.1 119.1,368.1C126.2,369.2 133.4,370.1 140.5,370.9C147.7,371.8 154.9,372.5 162.1,373.2C169.3,373.8 176.5,374.3 183.7,374.8C190.9,375.2 198.1,375.6 205.3,375.8C212.5,376.1 219.7,376.3 226.9,376.3C234.1,376.4 241.4,376.3 248.6,376.2C255.8,376.1 263,375.8 270.2,375.5C277.4,375.2 284.6,374.8 291.8,374.2C299,373.7 306.2,373.1 313.4,372.4C320.6,371.7 327.7,370.9 334.9,370C342.1,369 349.2,368 356.3,366.9C363.5,365.8 370.6,364.6 377.7,363.4C384.8,362.1 391.9,360.7 398.9,359.2C406,357.7 413,356.1 420,354.5C427.1,352.8 434.1,351 441,349.2C448,347.3 455,345.3 461.9,343.3C468.8,341.2 479.1,337.9 482.5,336.9"/>
<path d="M-22.3,316C-18.9,317.1 -8.9,320.5 -2.2,322.6C4.6,324.7 11.3,326.8 18.1,328.7C24.9,330.6 31.7,332.5 38.6,334.2C45.4,336 52.3,337.6 59.1,339.2C66,340.8 72.9,342.2 79.8,343.6C86.8,345 93.7,346.3 100.7,347.5C107.6,348.7 114.6,349.8 121.6,350.8C128.6,351.8 135.6,352.7 142.6,353.5C149.6,354.3 156.6,355.1 163.6,355.7C170.7,356.3 177.7,356.9 184.8,357.3C191.8,357.7 198.9,358.1 205.9,358.3C213,358.6 220,358.7 227.1,358.8C234.1,358.8 241.2,358.8 248.3,358.7C255.3,358.6 262.4,358.3 269.4,358C276.5,357.7 283.5,357.3 290.6,356.8C297.6,356.2 304.6,355.6 311.7,354.9C318.7,354.2 325.7,353.4 332.7,352.6C339.7,351.7 346.7,350.7 353.7,349.6C360.6,348.5 367.6,347.4 374.5,346.1C381.5,344.8 388.4,343.5 395.3,342C402.2,340.6 409.1,339 416,337.4C422.8,335.8 429.7,334 436.5,332.2C443.3,330.4 450.1,328.5 456.9,326.5C463.7,324.5 473.7,321.2 477.1,320.2"/>
<path d="M-16.6,299.6C-13.3,300.6 -3.5,304 3,306C9.6,308.1 16.2,310.1 22.9,312C29.5,313.9 36.2,315.7 42.9,317.4C49.6,319.1 56.3,320.7 63,322.3C69.7,323.8 76.5,325.2 83.2,326.6C90,327.9 96.8,329.2 103.6,330.4C110.4,331.5 117.2,332.6 124.1,333.6C130.9,334.6 137.7,335.5 144.6,336.3C151.4,337.1 158.3,337.8 165.2,338.4C172.1,339 178.9,339.5 185.8,340C192.7,340.4 199.6,340.7 206.5,341C213.4,341.2 220.3,341.4 227.2,341.4C234.1,341.5 241,341.4 247.9,341.3C254.8,341.2 261.7,341 268.6,340.7C275.5,340.3 282.4,339.9 289.3,339.4C296.2,338.9 303.1,338.3 309.9,337.7C316.8,337 323.7,336.2 330.5,335.3C337.4,334.5 344.2,333.5 351,332.4C357.8,331.4 364.6,330.3 371.4,329C378.2,327.8 385,326.5 391.8,325C398.5,323.6 405.2,322.1 412,320.5C418.7,318.9 425.4,317.2 432,315.4C438.7,313.7 445.4,311.8 452,309.8C458.6,307.9 468.4,304.7 471.7,303.7"/>
<path d="M-11,283.3C-7.8,284.4 1.8,287.6 8.2,289.6C14.6,291.7 21.1,293.6 27.6,295.4C34.1,297.3 40.6,299.1 47.1,300.7C53.7,302.4 60.2,304 66.8,305.5C73.4,307 80,308.4 86.6,309.7C93.2,311 99.9,312.3 106.5,313.4C113.2,314.5 119.8,315.6 126.5,316.6C133.2,317.5 139.9,318.4 146.6,319.2C153.3,320 160,320.7 166.7,321.3C173.4,321.9 180.2,322.4 186.9,322.8C193.6,323.2 200.4,323.5 207.1,323.8C213.9,324 220.6,324.2 227.4,324.2C234.1,324.3 240.9,324.2 247.6,324.1C254.4,324 261.1,323.8 267.8,323.5C274.6,323.2 281.3,322.8 288.1,322.3C294.8,321.8 301.5,321.2 308.2,320.5C314.9,319.9 321.6,319.1 328.3,318.3C335,317.4 341.7,316.5 348.4,315.4C355.1,314.4 361.7,313.3 368.4,312.1C375,310.9 381.6,309.6 388.2,308.2C394.8,306.8 401.4,305.3 408,303.8C414.5,302.2 421.1,300.6 427.6,298.8C434.1,297.1 440.6,295.2 447.1,293.3C453.6,291.4 463.2,288.3 466.4,287.3"/>
<path d="M-5.5,267.2C-2.3,268.2 7,271.4 13.3,273.4C19.6,275.3 25.9,277.2 32.3,279C38.6,280.9 45,282.6 51.4,284.2C57.8,285.8 64.2,287.4 70.6,288.9C77,290.3 83.5,291.7 89.9,293C96.4,294.3 102.9,295.5 109.4,296.6C115.9,297.7 122.4,298.7 128.9,299.7C135.5,300.6 142,301.5 148.6,302.2C155.1,303 161.7,303.7 168.2,304.3C174.8,304.9 181.4,305.4 188,305.8C194.6,306.2 201.1,306.5 207.7,306.7C214.3,307 220.9,307.1 227.5,307.2C234.1,307.2 240.7,307.2 247.3,307.1C253.9,306.9 260.5,306.7 267.1,306.4C273.7,306.1 280.2,305.7 286.8,305.3C293.4,304.8 300,304.2 306.5,303.6C313.1,302.9 319.7,302.2 326.2,301.3C332.7,300.5 339.3,299.6 345.8,298.6C352.3,297.6 358.8,296.5 365.3,295.3C371.8,294.1 378.3,292.9 384.7,291.5C391.2,290.2 397.6,288.7 404,287.2C410.4,285.7 416.8,284 423.2,282.3C429.6,280.6 435.9,278.9 442.2,277C448.6,275.1 458,272.1 461.1,271.1"/>
<path d="M0,251.2C3.1,252.2 12.2,255.3 18.4,257.2C24.5,259.2 30.7,261 36.9,262.8C43.1,264.6 49.3,266.2 55.6,267.8C61.8,269.4 68.1,271 74.3,272.4C80.6,273.8 86.9,275.2 93.3,276.4C99.6,277.7 105.9,278.9 112.3,279.9C118.6,281 125,282 131.4,283C137.7,283.9 144.1,284.7 150.5,285.5C156.9,286.2 163.3,286.9 169.7,287.4C176.2,288 182.6,288.5 189,288.9C195.5,289.3 201.9,289.6 208.3,289.8C214.8,290.1 221.2,290.2 227.7,290.3C234.1,290.3 240.5,290.3 247,290.2C253.4,290.1 259.9,289.8 266.3,289.6C272.7,289.3 279.2,288.9 285.6,288.4C292,288 298.4,287.4 304.9,286.8C311.3,286.1 317.7,285.4 324.1,284.6C330.5,283.8 336.8,282.9 343.2,281.9C349.6,280.9 355.9,279.8 362.3,278.7C368.6,277.5 374.9,276.3 381.2,275C387.5,273.6 393.8,272.2 400.1,270.7C406.4,269.3 412.6,267.7 418.8,266C425.1,264.4 431.3,262.6 437.5,260.8C443.6,258.9 452.8,256 455.9,255"/>
<path d="M5.5,235.4C8.5,236.3 17.4,239.4 23.4,241.3C29.4,243.2 35.4,245 41.5,246.7C47.5,248.4 53.6,250.1 59.7,251.6C65.8,253.2 71.9,254.7 78.1,256.1C84.2,257.5 90.4,258.8 96.5,260C102.7,261.2 108.9,262.4 115.1,263.4C121.3,264.5 127.5,265.5 133.7,266.4C140,267.3 146.2,268.1 152.5,268.8C158.7,269.6 165,270.2 171.2,270.8C177.5,271.3 183.8,271.8 190.1,272.2C196.3,272.6 202.6,272.9 208.9,273.1C215.2,273.3 221.5,273.5 227.8,273.5C234.1,273.6 240.4,273.5 246.7,273.4C253,273.3 259.3,273.1 265.5,272.8C271.8,272.5 278.1,272.2 284.4,271.7C290.7,271.3 296.9,270.7 303.2,270.1C309.5,269.5 315.7,268.8 322,268C328.2,267.2 334.4,266.3 340.7,265.3C346.9,264.4 353.1,263.3 359.3,262.2C365.5,261.1 371.6,259.9 377.8,258.6C384,257.3 390.1,255.9 396.2,254.5C402.3,253 408.4,251.5 414.5,249.8C420.6,248.2 426.7,246.5 432.7,244.7C438.7,242.9 447.7,240 450.7,239.1"/>
<path d="M10.9,219.7C13.8,220.6 22.5,223.6 28.4,225.4C34.2,227.3 40.1,229 46,230.7C52,232.4 57.9,234 63.8,235.5C69.8,237.1 75.8,238.5 81.8,239.9C87.7,241.2 93.8,242.5 99.8,243.7C105.8,244.9 111.8,246 117.9,247.1C124,248.1 130,249.1 136.1,249.9C142.2,250.8 148.3,251.6 154.4,252.3C160.5,253 166.6,253.7 172.7,254.2C178.8,254.8 185,255.2 191.1,255.6C197.2,256 203.4,256.3 209.5,256.5C215.6,256.7 221.8,256.9 227.9,256.9C234.1,257 240.2,256.9 246.4,256.8C252.5,256.7 258.7,256.5 264.8,256.2C270.9,256 277.1,255.6 283.2,255.1C289.3,254.7 295.4,254.2 301.6,253.6C307.7,253 313.8,252.3 319.9,251.5C326,250.7 332,249.9 338.1,248.9C344.2,248 350.3,247 356.3,245.9C362.3,244.8 368.4,243.6 374.4,242.3C380.4,241.1 386.4,239.7 392.4,238.3C398.3,236.9 404.3,235.4 410.2,233.8C416.2,232.2 422.1,230.5 428,228.8C433.9,227 442.7,224.2 445.6,223.3"/>
<path d="M16.2,204.1C19.1,205 27.6,207.9 33.3,209.7C39,211.5 44.8,213.2 50.6,214.9C56.3,216.5 62.1,218.1 67.9,219.6C73.7,221.1 79.6,222.5 85.4,223.8C91.3,225.1 97.1,226.4 103,227.6C108.9,228.7 114.8,229.8 120.7,230.8C126.6,231.9 132.5,232.8 138.5,233.6C144.4,234.5 150.3,235.3 156.3,236C162.2,236.7 168.2,237.3 174.2,237.8C180.2,238.4 186.1,238.8 192.1,239.2C198.1,239.6 204.1,239.8 210.1,240.1C216.1,240.3 222.1,240.4 228.1,240.4C234.1,240.5 240.1,240.5 246.1,240.4C252.1,240.2 258.1,240.1 264,239.8C270,239.5 276,239.2 282,238.7C288,238.3 294,237.8 299.9,237.2C305.9,236.6 311.8,235.9 317.8,235.2C323.7,234.4 329.7,233.6 335.6,232.7C341.5,231.7 347.5,230.7 353.3,229.7C359.2,228.6 365.1,227.4 371,226.2C376.9,225 382.7,223.7 388.6,222.3C394.4,220.9 400.2,219.4 406,217.9C411.8,216.3 417.6,214.7 423.3,213C429.1,211.3 437.6,208.6 440.5,207.7"/>
<path d="M21.6,188.7C24.3,189.6 32.6,192.4 38.2,194.1C43.8,195.9 49.4,197.6 55,199.2C60.7,200.8 66.3,202.3 72,203.8C77.6,205.2 83.3,206.6 89,207.9C94.7,209.2 100.5,210.4 106.2,211.5C111.9,212.7 117.7,213.8 123.4,214.7C129.2,215.7 135,216.7 140.8,217.5C146.6,218.3 152.4,219.1 158.2,219.8C164,220.4 169.8,221 175.6,221.6C181.5,222.1 187.3,222.5 193.1,222.9C199,223.2 204.8,223.5 210.7,223.7C216.5,223.9 222.4,224.1 228.2,224.1C234.1,224.2 239.9,224.1 245.8,224C251.6,223.9 257.5,223.7 263.3,223.5C269.1,223.2 275,222.9 280.8,222.4C286.7,222 292.5,221.5 298.3,220.9C304.1,220.4 309.9,219.7 315.7,219C321.5,218.2 327.3,217.4 333.1,216.5C338.9,215.6 344.7,214.7 350.4,213.6C356.2,212.6 361.9,211.4 367.6,210.2C373.4,209 379.1,207.7 384.8,206.4C390.5,205 396.1,203.6 401.8,202.1C407.4,200.6 413.1,199 418.7,197.3C424.3,195.7 432.6,193 435.4,192.1"/>
<path d="M26.8,173.3C29.5,174.2 37.6,177 43.1,178.7C48.5,180.4 54,182 59.5,183.6C65,185.2 70.5,186.7 76,188.1C81.5,189.5 87.1,190.8 92.6,192.1C98.2,193.4 103.8,194.5 109.4,195.7C115,196.8 120.6,197.8 126.2,198.8C131.8,199.7 137.4,200.6 143.1,201.5C148.7,202.3 154.4,203 160.1,203.7C165.7,204.3 171.4,204.9 177.1,205.4C182.8,205.9 188.5,206.4 194.1,206.7C199.8,207.1 205.5,207.3 211.2,207.5C216.9,207.7 222.6,207.9 228.3,207.9C234.1,208 239.8,207.9 245.5,207.8C251.2,207.7 256.9,207.5 262.6,207.3C268.3,207 274,206.7 279.6,206.3C285.3,205.9 291,205.4 296.7,204.8C302.4,204.2 308,203.6 313.7,202.9C319.4,202.2 325,201.4 330.6,200.5C336.3,199.6 341.9,198.7 347.5,197.7C353.1,196.6 358.7,195.5 364.3,194.4C369.9,193.2 375.5,192 381,190.6C386.6,189.3 392.1,187.9 397.6,186.4C403.1,185 408.6,183.4 414.1,181.8C419.5,180.2 427.7,177.6 430.4,176.7"/>
<path d="M32.1,158.1C34.7,159 42.6,161.7 47.9,163.4C53.2,165 58.5,166.6 63.9,168.1C69.2,169.7 74.6,171.1 80,172.5C85.4,173.9 90.8,175.2 96.2,176.4C101.6,177.7 107.1,178.8 112.5,179.9C118,181 123.4,182 128.9,182.9C134.4,183.9 139.9,184.8 145.4,185.5C150.9,186.3 156.4,187.1 161.9,187.7C167.4,188.3 173,188.9 178.5,189.4C184.1,189.9 189.6,190.3 195.1,190.7C200.7,191 206.3,191.3 211.8,191.5C217.4,191.7 222.9,191.8 228.5,191.8C234,191.9 239.6,191.9 245.2,191.8C250.7,191.7 256.3,191.5 261.8,191.2C267.4,191 272.9,190.7 278.5,190.3C284,189.8 289.6,189.4 295.1,188.8C300.6,188.3 306.2,187.6 311.7,186.9C317.2,186.2 322.7,185.5 328.2,184.6C333.7,183.8 339.2,182.9 344.6,181.9C350.1,180.9 355.6,179.8 361,178.6C366.5,177.5 371.9,176.3 377.3,175C382.7,173.7 388.1,172.4 393.5,170.9C398.8,169.5 404.2,168 409.5,166.4C414.9,164.8 422.8,162.3 425.4,161.5"/>
<path d="M37.2,143.1C39.8,143.9 47.5,146.5 52.7,148.1C57.9,149.8 63,151.3 68.3,152.8C73.5,154.3 78.7,155.7 83.9,157C89.2,158.4 94.5,159.7 99.7,160.9C105,162.1 110.3,163.2 115.6,164.3C120.9,165.3 126.3,166.3 131.6,167.2C136.9,168.1 142.3,169 147.7,169.8C153,170.5 158.4,171.2 163.8,171.9C169.1,172.5 174.5,173 179.9,173.5C185.3,174 190.7,174.4 196.1,174.8C201.5,175.1 207,175.4 212.4,175.5C217.8,175.7 223.2,175.9 228.6,175.9C234,175.9 239.5,175.9 244.9,175.8C250.3,175.7 255.7,175.5 261.1,175.3C266.5,175.1 271.9,174.7 277.3,174.3C282.7,174 288.1,173.5 293.5,173C298.9,172.4 304.3,171.8 309.7,171.1C315,170.4 320.4,169.7 325.8,168.9C331.1,168 336.5,167.1 341.8,166.2C347.1,165.2 352.4,164.2 357.7,163C363,161.9 368.3,160.7 373.6,159.5C378.9,158.2 384.1,156.9 389.4,155.5C394.6,154.1 399.8,152.6 405,151.1C410.2,149.6 417.9,147.1 420.5,146.3"/>
<path d="M42.4,128.1C44.9,128.9 52.4,131.5 57.4,133C62.5,134.6 67.5,136.1 72.6,137.6C77.7,139 82.8,140.4 87.9,141.7C93,143 98.1,144.3 103.2,145.4C108.4,146.6 113.5,147.7 118.7,148.7C123.9,149.8 129.1,150.7 134.3,151.6C139.5,152.5 144.7,153.3 149.9,154.1C155.1,154.8 160.4,155.5 165.6,156.1C170.8,156.8 176.1,157.3 181.3,157.8C186.6,158.2 191.9,158.6 197.1,159C202.4,159.3 207.7,159.5 212.9,159.7C218.2,159.9 223.5,160 228.8,160.1C234,160.1 239.3,160.1 244.6,160C249.8,159.9 255.1,159.7 260.4,159.5C265.7,159.3 270.9,158.9 276.2,158.6C281.4,158.2 286.7,157.7 292,157.2C297.2,156.7 302.4,156.1 307.7,155.4C312.9,154.8 318.1,154 323.3,153.2C328.6,152.4 333.8,151.5 339,150.6C344.1,149.7 349.3,148.6 354.5,147.6C359.6,146.5 364.8,145.3 369.9,144.1C375.1,142.9 380.2,141.6 385.3,140.2C390.4,138.9 395.4,137.4 400.5,135.9C405.6,134.4 413.1,132 415.6,131.2"/>
<path d="M47.5,113.2C50,114 57.2,116.5 62.1,118.1C67,119.6 72,121.1 76.9,122.5C81.8,123.9 86.8,125.2 91.8,126.5C96.7,127.8 101.7,129 106.7,130.1C111.7,131.3 116.8,132.3 121.8,133.3C126.8,134.3 131.9,135.3 136.9,136.1C142,137 147.1,137.8 152.2,138.5C157.2,139.3 162.3,139.9 167.4,140.5C172.5,141.1 177.6,141.7 182.7,142.1C187.9,142.6 193,143 198.1,143.3C203.2,143.6 208.4,143.9 213.5,144C218.6,144.2 223.7,144.3 228.9,144.4C234,144.4 239.2,144.4 244.3,144.3C249.4,144.2 254.6,144 259.7,143.8C264.8,143.6 269.9,143.3 275.1,142.9C280.2,142.5 285.3,142.1 290.4,141.6C295.5,141.1 300.6,140.5 305.7,139.8C310.8,139.2 315.9,138.5 321,137.7C326,136.9 331.1,136.1 336.1,135.1C341.2,134.2 346.2,133.2 351.3,132.2C356.3,131.1 361.3,130 366.3,128.8C371.3,127.6 376.3,126.4 381.2,125C386.2,123.7 391.1,122.3 396,120.9C401,119.4 408.3,117.1 410.8,116.3"/>
<path d="M52.6,98.5C55,99.3 62.1,101.7 66.8,103.2C71.6,104.7 76.4,106.1 81.2,107.5C86,108.9 90.8,110.2 95.6,111.4C100.5,112.6 105.3,113.8 110.2,114.9C115.1,116 119.9,117.1 124.8,118C129.7,119 134.7,119.9 139.6,120.8C144.5,121.6 149.4,122.4 154.4,123.1C159.3,123.8 164.3,124.5 169.2,125C174.2,125.6 179.2,126.1 184.1,126.6C189.1,127 194.1,127.4 199.1,127.7C204.1,128 209,128.3 214,128.4C219,128.6 224,128.7 229,128.8C234,128.8 239,128.8 244,128.7C249,128.6 254,128.4 259,128.2C264,128 268.9,127.7 273.9,127.3C278.9,127 283.9,126.6 288.9,126.1C293.8,125.6 298.8,125 303.7,124.4C308.7,123.7 313.6,123 318.6,122.3C323.5,121.5 328.4,120.7 333.3,119.8C338.3,118.9 343.2,117.9 348.1,116.9C352.9,115.9 357.8,114.8 362.7,113.6C367.5,112.5 372.4,111.3 377.2,110C382,108.7 386.8,107.3 391.6,105.9C396.4,104.5 403.5,102.2 405.9,101.5"/>
<path d="M57.6,83.9C59.9,84.6 66.8,87 71.5,88.4C76.1,89.9 80.7,91.3 85.4,92.6C90.1,93.9 94.8,95.2 99.5,96.4C104.2,97.6 108.9,98.7 113.6,99.8C118.4,100.9 123.1,101.9 127.9,102.9C132.6,103.8 137.4,104.7 142.2,105.5C147,106.3 151.8,107.1 156.6,107.8C161.4,108.5 166.2,109.1 171,109.7C175.8,110.2 180.7,110.7 185.5,111.2C190.3,111.6 195.2,112 200,112.3C204.9,112.6 209.7,112.8 214.6,113C219.4,113.1 224.3,113.3 229.1,113.3C234,113.3 238.9,113.3 243.7,113.2C248.6,113.1 253.4,113 258.3,112.8C263.1,112.5 268,112.2 272.8,111.9C277.6,111.5 282.5,111.1 287.3,110.6C292.1,110.2 297,109.6 301.8,109C306.6,108.4 311.4,107.7 316.2,107C321,106.2 325.8,105.4 330.6,104.6C335.4,103.7 340.1,102.8 344.9,101.8C349.6,100.8 354.4,99.7 359.1,98.6C363.8,97.5 368.5,96.3 373.2,95C377.9,93.8 382.6,92.4 387.2,91.1C391.9,89.7 398.8,87.5 401.1,86.7"/>
<path d="M-10.9,375.5C-7.6,364.8 2.2,332.4 8.6,311.4C15,290.4 21.3,269.8 27.5,249.5C33.7,229.2 39.7,209.3 45.7,189.7C51.7,170 57.6,150.7 63.4,131.6C69.2,112.5 77.7,84.5 80.6,75.1"/>
<path d="M18.1,383.8C21,373 29.7,340.2 35.3,319C40.9,297.8 46.5,277 51.9,256.5C57.4,236 62.7,215.9 68,196C73.3,176.1 78.4,156.6 83.6,137.3C88.7,118.1 96.2,89.8 98.7,80.3"/>
<path d="M47.3,391C49.8,380.1 57.4,347 62.2,325.6C67.1,304.2 71.9,283.3 76.6,262.6C81.3,241.9 85.9,221.6 90.5,201.6C95,181.5 99.5,161.8 103.9,142.4C108.4,122.9 114.9,94.4 117,84.8"/>
<path d="M76.9,397.2C78.9,386.2 85.3,352.9 89.4,331.3C93.5,309.7 97.5,288.6 101.5,267.8C105.4,246.9 109.3,226.5 113.1,206.3C117,186.1 120.8,166.3 124.5,146.7C128.2,127.1 133.7,98.3 135.5,88.7"/>
<path d="M106.6,402.3C108.2,391.2 113.4,357.7 116.7,336C120,314.3 123.3,293 126.5,272.1C129.7,251.1 132.9,230.5 136,210.2C139.1,189.9 142.1,169.9 145.2,150.2C148.2,130.5 152.6,101.6 154.1,91.9"/>
<path d="M136.4,406.3C137.7,395.2 141.6,361.5 144.2,339.7C146.7,317.9 149.2,296.5 151.7,275.5C154.1,254.4 156.6,233.7 158.9,213.3C161.3,192.9 163.7,172.8 166,153C168.3,133.2 171.7,104.2 172.8,94.4"/>
<path d="M166.4,409.2C167.3,398.1 170,364.3 171.8,342.4C173.5,320.5 175.3,299.1 177,278C178.7,256.8 180.3,236.1 182,215.6C183.6,195.1 185.3,175 186.9,155.1C188.5,135.2 190.8,106 191.6,96.2"/>
<path d="M196.5,411.1C197,399.9 198.5,366.1 199.5,344.2C200.4,322.2 201.4,300.7 202.3,279.5C203.3,258.3 204.2,237.5 205.1,217C206,196.5 206.9,176.3 207.8,156.4C208.7,136.4 210,107.2 210.4,97.4"/>
<path d="M226.6,411.9C226.7,400.7 227,366.8 227.2,344.9C227.4,322.9 227.6,301.4 227.7,280.2C227.9,259 228.1,238.2 228.3,217.6C228.4,197.1 228.6,176.9 228.8,156.9C228.9,137 229.2,107.8 229.3,97.9"/>
<path d="M256.8,411.6C256.5,400.4 255.5,366.6 254.9,344.6C254.3,322.7 253.7,301.2 253.1,280C252.6,258.8 252,237.9 251.4,217.4C250.9,196.9 250.3,176.7 249.8,156.7C249.2,136.8 248.4,107.6 248.1,97.7"/>
<path d="M286.9,410.2C286.2,399.1 284,365.3 282.6,343.4C281.2,321.5 279.9,300 278.5,278.8C277.2,257.6 275.9,236.9 274.6,216.4C273.3,195.8 272,175.7 270.7,155.8C269.5,135.9 267.6,106.7 267,96.9"/>
<path d="M316.9,407.8C315.8,396.7 312.4,362.9 310.3,341.1C308.1,319.3 306,297.8 303.9,276.7C301.8,255.6 299.7,234.9 297.7,214.5C295.6,194 293.6,173.9 291.6,154.1C289.7,134.2 286.8,105.1 285.8,95.3"/>
<path d="M346.8,404.3C345.3,393.2 340.8,359.6 337.8,337.9C334.9,316.1 332,294.8 329.1,273.8C326.2,252.8 323.4,232.1 320.7,211.8C317.9,191.4 315.2,171.4 312.5,151.6C309.8,131.8 305.9,102.9 304.5,93.1"/>
<path d="M376.6,399.7C374.7,388.7 369,355.3 365.2,333.6C361.5,312 357.8,290.8 354.2,269.9C350.6,249 347.1,228.5 343.6,208.2C340.1,188 336.6,168.1 333.2,148.4C329.8,128.8 324.9,100 323.2,90.3"/>
<path d="M406.2,394C403.9,383.1 397,349.9 392.5,328.4C388,306.9 383.5,285.9 379.2,265.1C374.8,244.4 370.5,224 366.3,203.9C362.1,183.8 357.9,164 353.8,144.5C349.7,124.9 343.7,96.3 341.7,86.7"/>
<path d="M435.6,387.3C432.9,376.4 424.8,343.5 419.5,322.2C414.2,300.9 409,280 403.9,259.5C398.8,238.9 393.8,218.7 388.9,198.7C384,178.8 379.1,159.2 374.3,139.8C369.5,120.4 362.5,92.1 360.1,82.5"/>
<path d="M464.7,379.5C461.7,368.8 452.3,336.2 446.3,315.1C440.3,294 434.3,273.3 428.5,252.9C422.7,232.5 416.9,212.5 411.3,192.7C405.6,173 400.1,153.6 394.6,134.4C389.1,115.2 381,87.1 378.3,77.6"/>
</g>
<path d="M333,185.2C333.3,185.2 332.2,184.6 331.7,184.4C331.2,184.2 329.7,183.8 328.9,183.6C328.1,183.4 325.5,182.7 324.5,182.6C323.5,182.5 321.3,182.5 320.4,182.7C319.5,182.9 317.4,183.6 316.5,184C315.6,184.4 313.8,185.3 313.1,186.1C312.4,186.9 311.3,189.7 310.7,190.9C310.1,192.1 308.2,195.1 307.6,196.4C307,197.7 305.7,200.7 305.2,201.9C304.7,203.1 303.7,205.6 303.4,206.7C303.1,207.8 302.9,209.9 302.8,211C302.7,212.1 302.4,214.3 302.2,215.8C302,217.3 301.3,222.5 301.1,224.2C300.9,225.9 300.6,228.9 300.6,230.4C300.6,231.9 300.9,235.1 301.1,236.7C301.3,238.3 301.8,242.4 302.2,244C302.6,245.6 303.8,248.9 304.3,250.2C304.8,251.5 305.9,254.7 306.5,255.5C307.1,256.3 308.7,257.2 309.4,257.4C310.1,257.6 311.8,257.1 312.5,256.8C313.2,256.5 314.6,255.6 315.2,255C315.8,254.4 316.8,252.4 317.3,251.2C317.8,250.1 319.1,246.5 319.4,245C319.7,243.5 319.9,240.2 319.9,238.8C319.9,237.3 319.7,234 319.4,232.5C319.1,231 317.7,227.6 317.3,226.2C316.9,224.9 316,222.3 315.8,221C315.6,219.7 315.5,216.4 315.5,215C315.5,213.6 316,210.3 316.1,209.2C316.2,208.1 316.3,206.2 316.7,205.5C317.1,204.8 318.6,203.7 319.2,203.1C319.8,202.5 321.8,201.1 322.2,200.5C322.6,199.9 321.9,198.1 322.2,197.6C322.5,197.1 324.1,196.4 324.7,195.8C325.3,195.2 326.9,193.1 327.1,192.2C327.3,191.3 326.5,188.6 326.5,187.9C326.5,187.2 327.1,186.4 327.5,186C327.9,185.6 328.9,184.9 329.5,184.8C330.1,184.7 332.7,185.2 333,185.2Z" fill="#fff" stroke="#1a1a1a" stroke-width="0.75"/>
<path d="M310.5,188 308,188.4 304.6,189.1 302.2,192.2 300.3,198.2 299.1,203.1 296.7,209.2 296.1,211 298.5,209.6 302.2,205.5 304.6,200.1 307,195.2 309.5,190.3Z" fill="#fff" stroke="#1a1a1a" stroke-width="0.6"/>
<path d="M322,197.3 323.2,199.5 323.9,202.3 324.6,202 324.2,199 323.4,196.8Z" fill="#fff" stroke="#222" stroke-width="0.5"/>
<ellipse cx="218.5" cy="156.7" rx="3.8" ry="1.6" transform="rotate(-20 218.5 156.7)" fill="#fff" stroke="#333" stroke-width="0.5"/>
<ellipse cx="233" cy="186.5" rx="1.6" ry="1.9" transform="rotate(0 233 186.5)" fill="#fff" stroke="#333" stroke-width="0.5"/>
<ellipse cx="292.2" cy="220" rx="1.0" ry="3.0" transform="rotate(0 292.2 220)" fill="#fff" stroke="#333" stroke-width="0.5"/>
<ellipse cx="220" cy="166.5" rx="0.8" ry="0.8" transform="rotate(0 220 166.5)" fill="#fff" stroke="#333" stroke-width="0.5"/>
<ellipse cx="225.5" cy="166.2" rx="1.0" ry="1.0" transform="rotate(0 225.5 166.2)" fill="#fff" stroke="#333" stroke-width="0.5"/>
<ellipse cx="223.5" cy="163.5" rx="1.2" ry="0.9" transform="rotate(0 223.5 163.5)" fill="#fff" stroke="#333" stroke-width="0.5"/>
<circle cx="321.6" cy="189.4" r="0.75" fill="#111"/><!--Beaver-->
<circle cx="96.9" cy="232.6" r="0.6" fill="#111"/><circle cx="107.3" cy="312.3" r="0.6" fill="#111"/><path d="M129,259.6L131.8,261.4" stroke="#111" stroke-width="0.9"/>
<path d="M116.5,129.3 139.1,132.5 160.8,135.8 178.2,138.2 195.6,140.4 205,141.2 214.6,141.8 220.6,144 225.8,146 232,148.1 236.3,148.6 240.4,149.7 244.6,151.3 248.8,153.3 254,155.9 259.2,154.4 263.3,155.9 269.6,156.7 272.5,156.7 266,160.6 260.8,164.8 255.6,170 251.5,175.2 249.4,178.1 253.5,177.3 257.7,176.2 261.4,174.5 262.4,178.3 265,179.4 269.2,179.4 273.3,176.2 278.5,175.2 283.8,171 285.8,169 289,165.8 292,163.5 294.2,163.8 291,165.8 288.4,170 289,172 294.2,173.1 298.3,175.2 302.5,177.3 306.2,177.1 310.4,175.5 315.6,173.4 320.8,171.9 324.5,170.8 325.5,173.4 328.1,175 331.2,174.5 334.4,175 336.5,176.6 339.6,179.2 343.8,180.7 344,181.8 339.6,181.9 334.4,182.5 330.2,183.4 329.5,184.8 334.4,185.4 339.6,187 343.8,189.6 346.4,191.7 347.9,195.8 348.5,201.2 347.5,207.5 344.9,213.2 345.4,218 348.5,219 351.7,213.8 354.8,210.6 357.9,211.7 360,215.8 362,222 363.4,225.4 363.9,231.7 360.7,235.4 359.8,239 358,242.6 356.2,248.9 361.6,251.2 366.1,252.5 370.6,251.2 374.3,250.3" fill="none" stroke="#1a1a1a" stroke-width="0.8" stroke-linejoin="round"/>
<g fill="none" stroke="#141414" stroke-width="1.0" stroke-linejoin="round" stroke-linecap="round" clip-path="url(#mLf)">
<path d="M127.3,131.7 115.8,196 109.8,228 103.3,260.6"/>
<path d="M104.3,193.2 115.6,195.2"/>
<path d="M118,180.2 140,183 160,185.7 182,188.4 199.3,190.4"/>
<path d="M109.6,228.5 130,231.3 150,233.9 172.4,236.5"/>
<path d="M165.4,220.3 164.4,224.5 167.7,230.2 172.4,236.5 176,239.5 180.2,241.1 184,240 188.5,240.1 192,242.5 195.8,244.8"/>
<path d="M89.6,258 103.3,260.6 127.4,265.2"/>
<path d="M127.4,265.2 126.1,282.1 122.8,305 118.2,333.4"/>
<path d="M125.9,282.2 150,285 174,287.8 209.6,289.8"/>
<path d="M195.8,244.8 197,246.5 199,250 201.1,252.7 202,258 203.3,265.4 205.4,278.1 207.5,284 209.6,289.8 213.9,293 214.9,299.3 218.1,303.6 219.2,304"/>
<path d="M219.2,303.6 219.2,350.2"/>
<path d="M76.9,326.2 118.5,333.2 158.8,338.5 201.1,341.7 219.2,342.8"/>
<path d="M219.2,350.2 230,350.8 255,350.3 279.6,349.7"/>
<path d="M279.6,349.7 280.7,354.1 278.5,358.5 277.4,362"/>
<path d="M104.8,331.6 103.8,340 101.3,352 100.8,361"/>
<path d="M103.8,339.8 144.3,346.2 143.8,352.5"/>
<path d="M198.4,230.2 230,231 260.6,231.4"/>
<path d="M199.3,190.4 196.9,196.9 200,204.2 200,229.2 198.4,230.2 197.9,234.4 196.5,240 195.8,244.8"/>
<path d="M195.6,140.4 196.5,150 197.3,156.3 198.7,173.6 199.3,190.4"/>
<path d="M249.4,178.1 246.9,180.2 247.9,187.5 242.7,195.8 243.8,204.2 248,208.5 252,212.5 258.3,220.8 260.4,231.2"/>
<path d="M260.4,231.2 261.6,236.9 264.5,241 267.4,244.9 273.1,250.6 274.2,257.5 271.9,262 265.1,265.5 263.9,272.4 261.6,278.1 258.7,281.3 260.9,288 264.2,294.6 269.7,301.2 275.2,306.7 276.8,311.1 277.4,315.5 280.7,321 285.2,326.5 287.8,331 290,334.3 292.9,338.2 294,340.9 291.8,345.3 289.6,348.6 288.5,353 286.9,357.4 286.3,362"/>
<path d="M207.5,283.5 225,279.6 245,280.5 259.3,281.5"/>
<path d="M266.2,246 285,245.6 302.6,244.9"/>
<path d="M261.9,179.4 269.2,180.4 276.5,183.5 283.8,185.6 290,187.3 293.6,189.1 296.1,192.2 296.7,195.8 298.5,198.2 299.6,201.2"/>
<path d="M307.7,257 308.3,279.1 309.4,299 311.2,307.8 310.5,314.4 309.4,320 307.2,323.2 306.1,324.3"/>
<path d="M292.9,338.2 296.2,336.9 300.6,336.9 303.9,333.8 305,328.8 305.5,324 309.4,321.5 313.8,319.9 317.1,321 320.4,318.8 323.8,319.3 327.1,316.6 329.3,317.7 331.5,314.4 334.8,312.2 335.9,308.9 338.1,307.8 340.3,305.6 341.4,303.4 343.6,301.2 345.8,297.9 349.1,297.9 352.4,300.1 355.7,299 359,301.2 362.4,301.2 365.7,299.4 369,299 371.2,301.2 373.4,301.2 375.6,299.4 377.8,299 378.9,296.3 380,294.1 381.8,292.8 383,291.5"/>
<path d="M315.5,254.9 340.3,252.2 356.2,250.3"/>
<path d="M340.3,252.2 342.5,275 345.8,299"/>
<path d="M377.8,300.5 375.6,305.6 380,310 384,314.5 386.6,317.7"/>
<path d="M386.6,317.7 380,325.4 371.2,332 366.8,336.5"/>
<path d="M290.7,349.7 305,347.5 340,342.5 366.8,336.5 392,332.8"/>
<path d="M306.5,337.6 307.5,342 306.8,347 308,352 307,356"/>
<path d="M309.5,339 310.5,344 309.2,350 310.5,356"/>
<path d="M380,345.3 384,343.5 387,341 392,339.5"/>
</g>
<g fill="none" stroke="#111" stroke-width="1.1" stroke-linejoin="round">
<path d="M126.1,145.6 127.5,145.2 129.4,146.7 131.5,146 133,147.5 134.8,147.3 137,148.8 139.1,149.9 139.5,151.5 140.2,153.2 142.4,154.3 143.5,156.4 145.6,158.2 148.9,159 150.5,158.2 152.2,158.2"/>
<path d="M156.1,174.2 156.9,178.1 156.5,181 156.5,184.6 154.8,187.9 157.6,191.2 155.4,194.4 153.2,196.6 156.1,198.8 154.3,200.9 150,203.1 146.7,205.3 151.1,206.4 152.2,208.5 153.9,210.7"/>
</g>
<g fill="none" stroke="#111" stroke-width="1.6" stroke-linecap="round">
<path d="M232,144.5 235,146 238,147.2 241,148.2 243.5,149.8"/>
<path d="M253.2,142.6 254.8,143.4"/>
</g>
<g fill="none" stroke="#151515" stroke-width="0.85" stroke-linejoin="round">
<path d="M272.5,156.7 275.2,152.8 277.8,148.9 280.4,146.2 283,143.6 285.6,140.4 288.2,138.4 290.8,139.1 293.4,141 297.3,141.7 301.2,141 305.2,140.4 307.8,142.3 309,146.2 311.7,149.5 314.3,152.1 318.2,152.8 322,151.5 324,152.8 323.4,156.7 324.7,160 327.3,161.9 328,165.8 330,167.1 331.2,169.7 330.5,173 332.5,173.6 335.1,175 340.3,176 348.1,175.5 354,175.2 359.8,175.2"/>
<path d="M337.7,178.8 342.9,180.1 350.7,180.1 358.5,178.8"/>
<path d="M346.8,181.4 354,182.5 361.1,184"/>
<path d="M285.6,149.5 300,156.5 315,162.5 327.3,168.4 328.5,170.5"/>
<path d="M342.2,182.2 354.7,188.4 356.2,193.1 360.2,202.5 364,211.9 366.4,216.6 366,222.8 364.8,225.9"/>
<path d="M362.5,235.3 367,236 371.9,237.6"/>
<path d="M361,243 366,243.5 371.9,244.7"/>
<path d="M362.5,249.4 368,249.5 373.4,250.2"/>
<path d="M216.2,141.6 215.6,138.5 217,135.5 219.5,134.8 221,136.5 220.5,139.5 218.5,141.5 216.2,141.6"/>
<path d="M221.5,131.5 224,130.5 226.5,132.5 227.5,136 225.5,138.5 223,137.5 221.8,134.5 221.5,131.5"/>
<path d="M219,142.8 221.5,140.5 224.5,140 226.8,141.5 224.5,143.3 221.5,143.6"/>
<path d="M221.6,125.5 222,128.5 222.3,131.5"/>
<path d="M224.5,132.5 225.5,135.5"/>
<path d="M313,156 316,155.4"/>
<path d="M278,125 280,123 282,126 284,123.5 286.5,124 287.5,127 288,131 286,133 283,132.5 280,133 278,130.5 278,125"/>
<path d="M280,127 284,128"/>
<path d="M281,130 285,130.5"/>
<path d="M285,125 285.5,129"/>
<path d="M276.5,157.5 279,155 283,152.2 285.5,150.8 284.5,152.8 281,155.5 277.5,158 276.5,157.5"/>
<path d="M284,142.5 286,139.8 288,140.5 287,142.5 285,143.2 284,142.5"/>
<path d="M288.5,141 290.5,139 292.2,139.6 291,141.5 288.5,141"/>
<path d="M279.5,146 282,143.5 283.5,144.5"/>
</g>
<rect x="76" y="352.6" width="113" height="7.4" fill="#fff"/>
<text x="78.3" y="358.8" font-family="DejaVu Sans, sans-serif" font-size="7" fill="#2a2a2a" textLength="109" lengthAdjust="spacingAndGlyphs" style="word-spacing:1.5px">(C) Midwestern Regional Climate Center</text></g><!--endL-->
<g id="cbL">
<rect x="89.20" y="379.7" width="20.60" height="9.1" fill="#bdbdbd" stroke="#333" stroke-width="0.5"/>
<rect x="109.80" y="379.7" width="20.60" height="9.1" fill="#fbb43a" stroke="#333" stroke-width="0.5"/>
<rect x="130.40" y="379.7" width="20.60" height="9.1" fill="#f5e03c" stroke="#333" stroke-width="0.5"/>
<rect x="151.00" y="379.7" width="20.60" height="9.1" fill="#c8ee1e" stroke="#333" stroke-width="0.5"/>
<rect x="171.60" y="379.7" width="20.60" height="9.1" fill="#7fef7f" stroke="#333" stroke-width="0.5"/>
<rect x="192.20" y="379.7" width="20.60" height="9.1" fill="#5ad75a" stroke="#333" stroke-width="0.5"/>
<rect x="212.80" y="379.7" width="20.60" height="9.1" fill="#4caf4c" stroke="#333" stroke-width="0.5"/>
<rect x="233.40" y="379.7" width="20.60" height="9.1" fill="#1ea01e" stroke="#333" stroke-width="0.5"/>
<rect x="254.00" y="379.7" width="20.60" height="9.1" fill="#0a7d0a" stroke="#333" stroke-width="0.5"/>
<rect x="274.60" y="379.7" width="20.60" height="9.1" fill="#1e6eb4" stroke="#333" stroke-width="0.5"/>
<rect x="295.20" y="379.7" width="20.60" height="9.1" fill="#32a0e0" stroke="#333" stroke-width="0.5"/>
<rect x="315.80" y="379.7" width="20.60" height="9.1" fill="#4cb4f0" stroke="#333" stroke-width="0.5"/>
<rect x="336.40" y="379.7" width="20.60" height="9.1" fill="#b4d4f0" stroke="#333" stroke-width="0.5"/>
<rect x="357.00" y="379.7" width="20.60" height="9.1" fill="#d28cf0" stroke="#333" stroke-width="0.5"/>
<text class="g" x="109.8" y="376.6" font-size="8.5" text-anchor="middle">0.1</text>
<text class="g" x="151.0" y="376.6" font-size="8.5" text-anchor="middle">2.5</text>
<text class="g" x="192.2" y="376.6" font-size="8.5" text-anchor="middle">7.5</text>
<text class="g" x="233.4" y="376.6" font-size="8.5" text-anchor="middle">15</text>
<text class="g" x="274.6" y="376.6" font-size="8.5" text-anchor="middle">30</text>
<text class="g" x="315.8" y="376.6" font-size="8.5" text-anchor="middle">50</text>
<text class="g" x="357.0" y="376.6" font-size="8.5" text-anchor="middle">80</text>
<text class="g" x="89.2" y="398.4" font-size="8.5" text-anchor="middle">0.0</text>
<text class="g" x="130.4" y="398.4" font-size="8.5" text-anchor="middle">1</text>
<text class="g" x="171.6" y="398.4" font-size="8.5" text-anchor="middle">5</text>
<text class="g" x="212.8" y="398.4" font-size="8.5" text-anchor="middle">10</text>
<text class="g" x="254.0" y="398.4" font-size="8.5" text-anchor="middle">20</text>
<text class="g" x="295.2" y="398.4" font-size="8.5" text-anchor="middle">40</text>
<text class="g" x="336.4" y="398.4" font-size="8.5" text-anchor="middle">60</text>
<text class="g" x="377.6" y="398.4" font-size="8.5" text-anchor="middle">100</text>
<text class="g" x="233.3" y="417" font-size="8.6" text-anchor="middle" textLength="145" lengthAdjust="spacingAndGlyphs">Midwestern Regional Climate Center</text>
<text class="g" x="233.3" y="429.6" font-size="8.6" text-anchor="middle" textLength="189" lengthAdjust="spacingAndGlyphs">cli-MATE: MRCC Application Tools Environment</text>
<text class="g" x="233.3" y="443" font-size="8.6" text-anchor="middle" textLength="176" lengthAdjust="spacingAndGlyphs">Generated at: 1/16/2026 8:19:19 PM CST</text>
</g>
<rect x="74.5" y="113.5" width="318" height="246.5" fill="none" stroke="#333" stroke-width="1"/>

<!-- RIGHT PANEL -->
<rect x="480" y="67" width="360" height="395" fill="#fff"/>
<text class="g" x="514" y="90.9" font-size="12.8" textLength="291.6" lengthAdjust="spacingAndGlyphs">Accumulated Snowfall (in): Departure from Mean</text>
<text class="g" x="532.8" y="103.75" font-size="12.8" textLength="254.7" lengthAdjust="spacingAndGlyphs">December 1, 2025 to December 31, 2025</text>
<g id="mapR" transform="translate(426.5,-3.4)"><clipPath id="mRc"><path d="M116.5,129.3 139.1,132.5 160.8,135.8 178.2,138.2 195.6,140.4 205,141.2 214.6,141.8 220.6,144 225.8,146 232,148.1 236.3,148.6 240.4,149.7 244.6,151.3 248.8,153.3 254,155.9 259.2,154.4 263.3,155.9 269.6,156.7 272.5,156.7 266,160.6 260.8,164.8 255.6,170 251.5,175.2 249.4,178.1 253.5,177.3 257.7,176.2 261.4,174.5 262.4,178.3 265,179.4 269.2,179.4 273.3,176.2 278.5,175.2 283.8,171 285.8,169 289,165.8 292,163.5 294.2,163.8 291,165.8 288.4,170 289,172 294.2,173.1 298.3,175.2 302.5,177.3 306.2,177.1 310.4,175.5 315.6,173.4 320.8,171.9 324.5,170.8 325.5,173.4 328.1,175 331.2,174.5 334.4,175 336.5,176.6 339.6,179.2 343.8,180.7 344,181.8 339.6,181.9 334.4,182.5 330.2,183.4 329.5,184.8 334.4,185.4 339.6,187 343.8,189.6 346.4,191.7 347.9,195.8 348.5,201.2 347.5,207.5 344.9,213.2 345.4,218 348.5,219 351.7,213.8 354.8,210.6 357.9,211.7 360,215.8 362,222 363.4,225.4 363.9,231.7 360.7,235.4 359.8,239 358,242.6 356.2,248.9 361.6,251.2 366.1,252.5 370.6,251.2 374.3,250.3 392.3,358.5 392.5,360.5 74.5,360.5 74.5,342.5 75.5,342.5Z"/></clipPath>
<clipPath id="mRf"><rect x="74.5" y="113.5" width="318" height="246.6"/></clipPath>
<g clip-path="url(#mRf)">
<rect x="70" y="110" width="330" height="255" fill="#fefe9e"/>
<path d="M100,135C101.7,125.7 107.3,134.3 110,135C112.7,135.7 114.5,136.9 116.3,139C118.1,141.1 119.1,144.4 120.7,147.7C122.3,151 123.4,156.6 126.1,158.6C128.8,160.6 133.9,159 137,159.7C140.1,160.4 144.2,161.4 144.6,163C144.9,164.6 141.5,166.9 139.1,169.4C136.7,171.9 132.6,175.2 130.4,178.1C128.2,181 128.3,184.8 126.1,186.8C123.9,188.8 120.7,189.4 117.4,190.1C114.2,190.8 109.5,191 106.6,191.2C103.7,191.3 101.1,200.4 100,191C98.9,181.6 98.3,144.3 100,135Z" fill="#65f962"/>
<path d="M170.2,125C163,127.4 169.2,135.1 170.2,139.2C171.3,143.4 174.1,146.2 176.5,149.7C178.9,153.2 181.7,155.8 184.8,160C187.9,164.2 192.1,170.2 195.2,174.7C198.4,179.2 201.5,183.4 203.6,187.2C205.7,191 206,194.1 207.8,197.6C209.5,201.1 211.6,205.2 214,208C216.4,210.8 218.8,212.7 222.3,214.2C225.8,215.8 230.6,216.5 234.8,217.4C239,218.3 242.9,218.5 247.3,219.5C251.7,220.5 255.9,222 261.3,223.2C266.7,224.4 274.1,225.9 279.6,226.8C285.1,227.7 290.9,227.7 294.2,228.6C297.5,229.5 297.8,231.1 299.6,232.3C301.4,233.5 302.3,233.9 305,236C307.7,238.1 313.6,242.9 316,245C318.4,247.1 318.2,250.8 319.7,248.7C321.2,246.6 323,237.8 325.1,232.3C327.2,226.8 330,219.9 332.4,215.9C334.8,211.9 337,210.4 339.7,208.6C342.4,206.8 345.4,206.3 348.8,204.9C352.2,203.5 356.5,202.5 360,200C363.5,197.5 368.3,196.7 370,190C371.7,183.3 381.7,165 370,160C358.3,155 316.7,158.3 300,160C283.3,161.7 275.7,166.8 270,170C264.3,173.2 268.4,177.5 266,179.4C263.6,181.3 259.4,180.6 255.9,181.2C252.4,181.8 248.6,182.4 244.9,183C241.2,183.6 236.7,185.4 234,184.9C231.3,184.4 230.6,182.4 229,180C227.4,177.6 226.2,174.2 224.4,170.5C222.6,166.8 219.7,162.2 218,158C216.3,153.8 214.7,151 214,145.5C213.3,140 221.3,128.4 214,125C206.7,121.6 177.5,122.6 170.2,125Z" fill="#65f962"/>
<path d="M288.7,199C289.1,198 290.5,196.1 292,195.8C293.5,195.5 296.8,196.1 297.8,197C298.8,197.9 298.8,200.5 298,201.5C297.2,202.5 294.4,203 293,203.1C291.6,203.2 290.2,202.7 289.5,202C288.8,201.3 288.3,200 288.7,199Z" fill="#fefe9e"/>
<path d="M180.7,224.7C182.4,223 186.8,223.3 191,223.6C195.2,223.9 200.5,225.5 205.7,226.8C210.9,228 217.9,229.3 222.3,231C226.7,232.7 228.5,234.8 232,237C235.5,239.2 238.8,242.5 243.2,244.5C247.6,246.5 253.5,247.8 258.7,249C263.9,250.2 269.1,251.5 274.1,251.5C279.1,251.5 284.4,250.4 288.7,249C292.9,247.6 296.9,244.2 299.6,243.2C302.3,242.2 302.9,240.5 305,243C307.1,245.5 308.6,256.4 312,258C315.4,259.6 321.1,253 325.1,252.3C329.1,251.7 333.1,254.1 336.1,254.1C339.2,254.1 340.7,253.5 343.4,252.3C346.1,251.1 349.5,249 352.5,246.9C355.5,244.8 358.7,239.8 361.6,239.6C364.5,239.4 363.6,244.3 370,246C376.4,247.7 395,235.2 400,250C405,264.8 401.9,321.3 400,335C398.1,348.7 391.4,332.9 388.8,332C386.2,331.1 386.6,330.6 384.4,329.9C382.2,329.2 378.5,327.3 375.6,327.7C372.7,328.1 370.5,330.9 366.8,332C363.1,333.1 358.6,334.3 353.5,334.3C348.4,334.3 341,333.1 335.9,332C330.8,330.9 326.4,329.5 322.7,327.7C319,325.9 317.1,323.2 313.8,321C310.5,318.8 307.6,316.2 302.8,314.4C298,312.6 290.7,312.2 285.2,310C279.7,307.8 274.5,304.9 269.7,301.2C264.9,297.5 260.9,292.1 256.5,288C252.1,283.9 246.6,279.5 243.2,276.9C239.8,274.3 238.2,274 236,272.5C233.8,271 232,269.9 230,268.1C228,266.3 227.2,264.1 224,261.5C220.8,258.9 215.2,254.8 210.8,252.6C206.4,250.3 201.1,249.8 197.5,248C193.9,246.2 191.8,244.3 189,242C186.2,239.7 182.4,236.9 181,234C179.6,231.1 179,226.4 180.7,224.7Z" fill="#65f962"/>
<path d="M169.5,204.2C170.9,202.2 173.5,199.5 176,198.8C178.5,198.1 182.9,198.2 184.7,199.8C186.5,201.4 187.2,205.6 186.9,208.5C186.6,211.4 185.1,216.1 182.6,217.2C180.1,218.3 174.2,216.1 171.7,215C169.2,213.9 167.8,212.5 167.4,210.7C167,208.9 168.1,206.2 169.5,204.2Z" fill="#65f962"/>
<path d="M85,292.4C86.8,288.7 91.1,286.4 93.9,285.7C96.7,285 99.8,285.8 101.6,288C103.4,290.2 105.1,295.3 104.9,299C104.7,302.7 103.1,307.8 100.5,310C97.9,312.2 92.4,312.6 89.4,312.2C86.5,311.8 83.5,311.1 82.8,307.8C82.1,304.5 83.2,296.1 85,292.4Z" fill="#65f962"/>
<path d="M185,291C185.9,289.5 188.2,287.3 190,286.8C191.8,286.3 194.8,286.6 196,288C197.2,289.4 197.8,292.8 197.5,295C197.2,297.2 195.6,300.4 194,301.2C192.4,302 189.6,300.9 188,300C186.4,299.1 185,297.5 184.5,296C184,294.5 184.1,292.5 185,291Z" fill="#65f962"/>
<path d="M185,139.3C186.5,137.7 193.6,138.4 195.2,139.5C196.9,140.6 195.7,144 195,146C194.3,148 192.5,151.2 191,151.8C189.5,152.2 187,151.1 186,149C185,146.9 183.5,140.9 185,139.3Z" fill="#50c050"/>
<path d="M289,176C289.9,174.5 292.2,172.4 294,172.1C295.8,171.8 298.8,172.7 300,174C301.2,175.3 301.7,178 301.4,180C301.1,182 299.7,184.9 298,186C296.3,187.1 292.6,187.5 291,186.7C289.4,185.9 289,182.8 288.7,181C288.4,179.2 288.1,177.5 289,176Z" fill="#50c050"/>
<path d="M306.9,179C307.4,177.8 312,176 315,175.8C318,175.6 323.9,176.8 325.1,178C326.3,179.2 324.2,182.2 322,183C319.8,183.8 314.5,183.7 312,183C309.5,182.3 306.4,180.2 306.9,179Z" fill="#50c050"/>
<path d="M312.4,178C312.1,176.5 315.7,173.3 318,172C320.3,170.7 323.5,170.1 326,170.3C328.5,170.5 331.3,171.7 333,173C334.7,174.3 336.6,176.6 336.1,178C335.6,179.4 332.7,180.7 330,181.2C327.3,181.7 322.9,181.5 320,181C317.1,180.5 312.7,179.5 312.4,178Z" fill="#1a9e1a"/>
<path d="M317.8,175C318,174.1 320.6,172.8 322,172C323.4,171.2 324.9,170.2 326,170.3C327.1,170.4 328.6,171.6 328.8,172.5C329,173.4 328.3,175.2 327,176C325.7,176.8 322.5,177.8 321,177.6C319.5,177.4 317.6,175.9 317.8,175Z" fill="#0a7a0a"/>
</g>
<path d="M74.5,113.5H392.5V360.1H74.5Z M116.5,129.3 139.1,132.5 160.8,135.8 178.2,138.2 195.6,140.4 205,141.2 214.6,141.8 220.6,144 225.8,146 232,148.1 236.3,148.6 240.4,149.7 244.6,151.3 248.8,153.3 254,155.9 259.2,154.4 263.3,155.9 269.6,156.7 272.5,156.7 266,160.6 260.8,164.8 255.6,170 251.5,175.2 249.4,178.1 253.5,177.3 257.7,176.2 261.4,174.5 262.4,178.3 265,179.4 269.2,179.4 273.3,176.2 278.5,175.2 283.8,171 285.8,169 289,165.8 292,163.5 294.2,163.8 291,165.8 288.4,170 289,172 294.2,173.1 298.3,175.2 302.5,177.3 306.2,177.1 310.4,175.5 315.6,173.4 320.8,171.9 324.5,170.8 325.5,173.4 328.1,175 331.2,174.5 334.4,175 336.5,176.6 339.6,179.2 343.8,180.7 344,181.8 339.6,181.9 334.4,182.5 330.2,183.4 329.5,184.8 334.4,185.4 339.6,187 343.8,189.6 346.4,191.7 347.9,195.8 348.5,201.2 347.5,207.5 344.9,213.2 345.4,218 348.5,219 351.7,213.8 354.8,210.6 357.9,211.7 360,215.8 362,222 363.4,225.4 363.9,231.7 360.7,235.4 359.8,239 358,242.6 356.2,248.9 361.6,251.2 366.1,252.5 370.6,251.2 374.3,250.3 392.3,358.5 392.5,360.5 74.5,360.5 74.5,342.5 75.5,342.5Z" fill="#fff" fill-rule="evenodd"/>
<g clip-path="url(#mRc)" fill="none" stroke="#9a9a9a" stroke-width="0.8" stroke-dasharray="0.8 2.8" opacity="0.55">
<path d="M-33.7,349.3C-30.2,350.5 -19.8,354 -12.7,356.2C-5.7,358.4 1.4,360.6 8.5,362.6C15.5,364.6 22.7,366.5 29.8,368.4C37,370.2 44.1,371.9 51.3,373.6C58.5,375.2 65.7,376.7 73,378.2C80.2,379.6 87.4,381 94.7,382.2C102,383.5 109.3,384.6 116.6,385.7C123.9,386.7 131.2,387.7 138.5,388.5C145.8,389.4 153.2,390.1 160.5,390.8C167.8,391.4 175.2,392 182.6,392.5C189.9,392.9 197.3,393.3 204.7,393.5C212,393.8 219.4,394 226.8,394C234.2,394.1 241.5,394 248.9,393.9C256.3,393.8 263.6,393.5 271,393.2C278.4,392.9 285.7,392.4 293.1,391.9C300.5,391.4 307.8,390.7 315.1,390C322.5,389.3 329.8,388.4 337.1,387.5C344.4,386.6 351.7,385.6 359,384.4C366.3,383.3 373.6,382.1 380.9,380.8C388.1,379.4 395.3,378 402.6,376.5C409.8,375 417,373.4 424.2,371.7C431.3,370 438.5,368.2 445.6,366.3C452.7,364.4 459.8,362.4 466.9,360.3C474,358.2 484.5,354.8 488,353.7"/>
<path d="M-28,332.6C-24.6,333.7 -14.3,337.2 -7.4,339.3C-0.5,341.5 6.4,343.6 13.3,345.6C20.2,347.5 27.2,349.4 34.2,351.2C41.2,353 48.2,354.7 55.2,356.3C62.3,357.9 69.3,359.4 76.4,360.8C83.5,362.2 90.6,363.5 97.7,364.8C104.8,366 111.9,367.1 119.1,368.1C126.2,369.2 133.4,370.1 140.5,370.9C147.7,371.8 154.9,372.5 162.1,373.2C169.3,373.8 176.5,374.3 183.7,374.8C190.9,375.2 198.1,375.6 205.3,375.8C212.5,376.1 219.7,376.3 226.9,376.3C234.1,376.4 241.4,376.3 248.6,376.2C255.8,376.1 263,375.8 270.2,375.5C277.4,375.2 284.6,374.8 291.8,374.2C299,373.7 306.2,373.1 313.4,372.4C320.6,371.7 327.7,370.9 334.9,370C342.1,369 349.2,368 356.3,366.9C363.5,365.8 370.6,364.6 377.7,363.4C384.8,362.1 391.9,360.7 398.9,359.2C406,357.7 413,356.1 420,354.5C427.1,352.8 434.1,351 441,349.2C448,347.3 455,345.3 461.9,343.3C468.8,341.2 479.1,337.9 482.5,336.9"/>
<path d="M-22.3,316C-18.9,317.1 -8.9,320.5 -2.2,322.6C4.6,324.7 11.3,326.8 18.1,328.7C24.9,330.6 31.7,332.5 38.6,334.2C45.4,336 52.3,337.6 59.1,339.2C66,340.8 72.9,342.2 79.8,343.6C86.8,345 93.7,346.3 100.7,347.5C107.6,348.7 114.6,349.8 121.6,350.8C128.6,351.8 135.6,352.7 142.6,353.5C149.6,354.3 156.6,355.1 163.6,355.7C170.7,356.3 177.7,356.9 184.8,357.3C191.8,357.7 198.9,358.1 205.9,358.3C213,358.6 220,358.7 227.1,358.8C234.1,358.8 241.2,358.8 248.3,358.7C255.3,358.6 262.4,358.3 269.4,358C276.5,357.7 283.5,357.3 290.6,356.8C297.6,356.2 304.6,355.6 311.7,354.9C318.7,354.2 325.7,353.4 332.7,352.6C339.7,351.7 346.7,350.7 353.7,349.6C360.6,348.5 367.6,347.4 374.5,346.1C381.5,344.8 388.4,343.5 395.3,342C402.2,340.6 409.1,339 416,337.4C422.8,335.8 429.7,334 436.5,332.2C443.3,330.4 450.1,328.5 456.9,326.5C463.7,324.5 473.7,321.2 477.1,320.2"/>
<path d="M-16.6,299.6C-13.3,300.6 -3.5,304 3,306C9.6,308.1 16.2,310.1 22.9,312C29.5,313.9 36.2,315.7 42.9,317.4C49.6,319.1 56.3,320.7 63,322.3C69.7,323.8 76.5,325.2 83.2,326.6C90,327.9 96.8,329.2 103.6,330.4C110.4,331.5 117.2,332.6 124.1,333.6C130.9,334.6 137.7,335.5 144.6,336.3C151.4,337.1 158.3,337.8 165.2,338.4C172.1,339 178.9,339.5 185.8,340C192.7,340.4 199.6,340.7 206.5,341C213.4,341.2 220.3,341.4 227.2,341.4C234.1,341.5 241,341.4 247.9,341.3C254.8,341.2 261.7,341 268.6,340.7C275.5,340.3 282.4,339.9 289.3,339.4C296.2,338.9 303.1,338.3 309.9,337.7C316.8,337 323.7,336.2 330.5,335.3C337.4,334.5 344.2,333.5 351,332.4C357.8,331.4 364.6,330.3 371.4,329C378.2,327.8 385,326.5 391.8,325C398.5,323.6 405.2,322.1 412,320.5C418.7,318.9 425.4,317.2 432,315.4C438.7,313.7 445.4,311.8 452,309.8C458.6,307.9 468.4,304.7 471.7,303.7"/>
<path d="M-11,283.3C-7.8,284.4 1.8,287.6 8.2,289.6C14.6,291.7 21.1,293.6 27.6,295.4C34.1,297.3 40.6,299.1 47.1,300.7C53.7,302.4 60.2,304 66.8,305.5C73.4,307 80,308.4 86.6,309.7C93.2,311 99.9,312.3 106.5,313.4C113.2,314.5 119.8,315.6 126.5,316.6C133.2,317.5 139.9,318.4 146.6,319.2C153.3,320 160,320.7 166.7,321.3C173.4,321.9 180.2,322.4 186.9,322.8C193.6,323.2 200.4,323.5 207.1,323.8C213.9,324 220.6,324.2 227.4,324.2C234.1,324.3 240.9,324.2 247.6,324.1C254.4,324 261.1,323.8 267.8,323.5C274.6,323.2 281.3,322.8 288.1,322.3C294.8,321.8 301.5,321.2 308.2,320.5C314.9,319.9 321.6,319.1 328.3,318.3C335,317.4 341.7,316.5 348.4,315.4C355.1,314.4 361.7,313.3 368.4,312.1C375,310.9 381.6,309.6 388.2,308.2C394.8,306.8 401.4,305.3 408,303.8C414.5,302.2 421.1,300.6 427.6,298.8C434.1,297.1 440.6,295.2 447.1,293.3C453.6,291.4 463.2,288.3 466.4,287.3"/>
<path d="M-5.5,267.2C-2.3,268.2 7,271.4 13.3,273.4C19.6,275.3 25.9,277.2 32.3,279C38.6,280.9 45,282.6 51.4,284.2C57.8,285.8 64.2,287.4 70.6,288.9C77,290.3 83.5,291.7 89.9,293C96.4,294.3 102.9,295.5 109.4,296.6C115.9,297.7 122.4,298.7 128.9,299.7C135.5,300.6 142,301.5 148.6,302.2C155.1,303 161.7,303.7 168.2,304.3C174.8,304.9 181.4,305.4 188,305.8C194.6,306.2 201.1,306.5 207.7,306.7C214.3,307 220.9,307.1 227.5,307.2C234.1,307.2 240.7,307.2 247.3,307.1C253.9,306.9 260.5,306.7 267.1,306.4C273.7,306.1 280.2,305.7 286.8,305.3C293.4,304.8 300,304.2 306.5,303.6C313.1,302.9 319.7,302.2 326.2,301.3C332.7,300.5 339.3,299.6 345.8,298.6C352.3,297.6 358.8,296.5 365.3,295.3C371.8,294.1 378.3,292.9 384.7,291.5C391.2,290.2 397.6,288.7 404,287.2C410.4,285.7 416.8,284 423.2,282.3C429.6,280.6 435.9,278.9 442.2,277C448.6,275.1 458,272.1 461.1,271.1"/>
<path d="M0,251.2C3.1,252.2 12.2,255.3 18.4,257.2C24.5,259.2 30.7,261 36.9,262.8C43.1,264.6 49.3,266.2 55.6,267.8C61.8,269.4 68.1,271 74.3,272.4C80.6,273.8 86.9,275.2 93.3,276.4C99.6,277.7 105.9,278.9 112.3,279.9C118.6,281 125,282 131.4,283C137.7,283.9 144.1,284.7 150.5,285.5C156.9,286.2 163.3,286.9 169.7,287.4C176.2,288 182.6,288.5 189,288.9C195.5,289.3 201.9,289.6 208.3,289.8C214.8,290.1 221.2,290.2 227.7,290.3C234.1,290.3 240.5,290.3 247,290.2C253.4,290.1 259.9,289.8 266.3,289.6C272.7,289.3 279.2,288.9 285.6,288.4C292,288 298.4,287.4 304.9,286.8C311.3,286.1 317.7,285.4 324.1,284.6C330.5,283.8 336.8,282.9 343.2,281.9C349.6,280.9 355.9,279.8 362.3,278.7C368.6,277.5 374.9,276.3 381.2,275C387.5,273.6 393.8,272.2 400.1,270.7C406.4,269.3 412.6,267.7 418.8,266C425.1,264.4 431.3,262.6 437.5,260.8C443.6,258.9 452.8,256 455.9,255"/>
<path d="M5.5,235.4C8.5,236.3 17.4,239.4 23.4,241.3C29.4,243.2 35.4,245 41.5,246.7C47.5,248.4 53.6,250.1 59.7,251.6C65.8,253.2 71.9,254.7 78.1,256.1C84.2,257.5 90.4,258.8 96.5,260C102.7,261.2 108.9,262.4 115.1,263.4C121.3,264.5 127.5,265.5 133.7,266.4C140,267.3 146.2,268.1 152.5,268.8C158.7,269.6 165,270.2 171.2,270.8C177.5,271.3 183.8,271.8 190.1,272.2C196.3,272.6 202.6,272.9 208.9,273.1C215.2,273.3 221.5,273.5 227.8,273.5C234.1,273.6 240.4,273.5 246.7,273.4C253,273.3 259.3,273.1 265.5,272.8C271.8,272.5 278.1,272.2 284.4,271.7C290.7,271.3 296.9,270.7 303.2,270.1C309.5,269.5 315.7,268.8 322,268C328.2,267.2 334.4,266.3 340.7,265.3C346.9,264.4 353.1,263.3 359.3,262.2C365.5,261.1 371.6,259.9 377.8,258.6C384,257.3 390.1,255.9 396.2,254.5C402.3,253 408.4,251.5 414.5,249.8C420.6,248.2 426.7,246.5 432.7,244.7C438.7,242.9 447.7,240 450.7,239.1"/>
<path d="M10.9,219.7C13.8,220.6 22.5,223.6 28.4,225.4C34.2,227.3 40.1,229 46,230.7C52,232.4 57.9,234 63.8,235.5C69.8,237.1 75.8,238.5 81.8,239.9C87.7,241.2 93.8,242.5 99.8,243.7C105.8,244.9 111.8,246 117.9,247.1C124,248.1 130,249.1 136.1,249.9C142.2,250.8 148.3,251.6 154.4,252.3C160.5,253 166.6,253.7 172.7,254.2C178.8,254.8 185,255.2 191.1,255.6C197.2,256 203.4,256.3 209.5,256.5C215.6,256.7 221.8,256.9 227.9,256.9C234.1,257 240.2,256.9 246.4,256.8C252.5,256.7 258.7,256.5 264.8,256.2C270.9,256 277.1,255.6 283.2,255.1C289.3,254.7 295.4,254.2 301.6,253.6C307.7,253 313.8,252.3 319.9,251.5C326,250.7 332,249.9 338.1,248.9C344.2,248 350.3,247 356.3,245.9C362.3,244.8 368.4,243.6 374.4,242.3C380.4,241.1 386.4,239.7 392.4,238.3C398.3,236.9 404.3,235.4 410.2,233.8C416.2,232.2 422.1,230.5 428,228.8C433.9,227 442.7,224.2 445.6,223.3"/>
<path d="M16.2,204.1C19.1,205 27.6,207.9 33.3,209.7C39,211.5 44.8,213.2 50.6,214.9C56.3,216.5 62.1,218.1 67.9,219.6C73.7,221.1 79.6,222.5 85.4,223.8C91.3,225.1 97.1,226.4 103,227.6C108.9,228.7 114.8,229.8 120.7,230.8C126.6,231.9 132.5,232.8 138.5,233.6C144.4,234.5 150.3,235.3 156.3,236C162.2,236.7 168.2,237.3 174.2,237.8C180.2,238.4 186.1,238.8 192.1,239.2C198.1,239.6 204.1,239.8 210.1,240.1C216.1,240.3 222.1,240.4 228.1,240.4C234.1,240.5 240.1,240.5 246.1,240.4C252.1,240.2 258.1,240.1 264,239.8C270,239.5 276,239.2 282,238.7C288,238.3 294,237.8 299.9,237.2C305.9,236.6 311.8,235.9 317.8,235.2C323.7,234.4 329.7,233.6 335.6,232.7C341.5,231.7 347.5,230.7 353.3,229.7C359.2,228.6 365.1,227.4 371,226.2C376.9,225 382.7,223.7 388.6,222.3C394.4,220.9 400.2,219.4 406,217.9C411.8,216.3 417.6,214.7 423.3,213C429.1,211.3 437.6,208.6 440.5,207.7"/>
<path d="M21.6,188.7C24.3,189.6 32.6,192.4 38.2,194.1C43.8,195.9 49.4,197.6 55,199.2C60.7,200.8 66.3,202.3 72,203.8C77.6,205.2 83.3,206.6 89,207.9C94.7,209.2 100.5,210.4 106.2,211.5C111.9,212.7 117.7,213.8 123.4,214.7C129.2,215.7 135,216.7 140.8,217.5C146.6,218.3 152.4,219.1 158.2,219.8C164,220.4 169.8,221 175.6,221.6C181.5,222.1 187.3,222.5 193.1,222.9C199,223.2 204.8,223.5 210.7,223.7C216.5,223.9 222.4,224.1 228.2,224.1C234.1,224.2 239.9,224.1 245.8,224C251.6,223.9 257.5,223.7 263.3,223.5C269.1,223.2 275,222.9 280.8,222.4C286.7,222 292.5,221.5 298.3,220.9C304.1,220.4 309.9,219.7 315.7,219C321.5,218.2 327.3,217.4 333.1,216.5C338.9,215.6 344.7,214.7 350.4,213.6C356.2,212.6 361.9,211.4 367.6,210.2C373.4,209 379.1,207.7 384.8,206.4C390.5,205 396.1,203.6 401.8,202.1C407.4,200.6 413.1,199 418.7,197.3C424.3,195.7 432.6,193 435.4,192.1"/>
<path d="M26.8,173.3C29.5,174.2 37.6,177 43.1,178.7C48.5,180.4 54,182 59.5,183.6C65,185.2 70.5,186.7 76,188.1C81.5,189.5 87.1,190.8 92.6,192.1C98.2,193.4 103.8,194.5 109.4,195.7C115,196.8 120.6,197.8 126.2,198.8C131.8,199.7 137.4,200.6 143.1,201.5C148.7,202.3 154.4,203 160.1,203.7C165.7,204.3 171.4,204.9 177.1,205.4C182.8,205.9 188.5,206.4 194.1,206.7C199.8,207.1 205.5,207.3 211.2,207.5C216.9,207.7 222.6,207.9 228.3,207.9C234.1,208 239.8,207.9 245.5,207.8C251.2,207.7 256.9,207.5 262.6,207.3C268.3,207 274,206.7 279.6,206.3C285.3,205.9 291,205.4 296.7,204.8C302.4,204.2 308,203.6 313.7,202.9C319.4,202.2 325,201.4 330.6,200.5C336.3,199.6 341.9,198.7 347.5,197.7C353.1,196.6 358.7,195.5 364.3,194.4C369.9,193.2 375.5,192 381,190.6C386.6,189.3 392.1,187.9 397.6,186.4C403.1,185 408.6,183.4 414.1,181.8C419.5,180.2 427.7,177.6 430.4,176.7"/>
<path d="M32.1,158.1C34.7,159 42.6,161.7 47.9,163.4C53.2,165 58.5,166.6 63.9,168.1C69.2,169.7 74.6,171.1 80,172.5C85.4,173.9 90.8,175.2 96.2,176.4C101.6,177.7 107.1,178.8 112.5,179.9C118,181 123.4,182 128.9,182.9C134.4,183.9 139.9,184.8 145.4,185.5C150.9,186.3 156.4,187.1 161.9,187.7C167.4,188.3 173,188.9 178.5,189.4C184.1,189.9 189.6,190.3 195.1,190.7C200.7,191 206.3,191.3 211.8,191.5C217.4,191.7 222.9,191.8 228.5,191.8C234,191.9 239.6,191.9 245.2,191.8C250.7,191.7 256.3,191.5 261.8,191.2C267.4,191 272.9,190.7 278.5,190.3C284,189.8 289.6,189.4 295.1,188.8C300.6,188.3 306.2,187.6 311.7,186.9C317.2,186.2 322.7,185.5 328.2,184.6C333.7,183.8 339.2,182.9 344.6,181.9C350.1,180.9 355.6,179.8 361,178.6C366.5,177.5 371.9,176.3 377.3,175C382.7,173.7 388.1,172.4 393.5,170.9C398.8,169.5 404.2,168 409.5,166.4C414.9,164.8 422.8,162.3 425.4,161.5"/>
<path d="M37.2,143.1C39.8,143.9 47.5,146.5 52.7,148.1C57.9,149.8 63,151.3 68.3,152.8C73.5,154.3 78.7,155.7 83.9,157C89.2,158.4 94.5,159.7 99.7,160.9C105,162.1 110.3,163.2 115.6,164.3C120.9,165.3 126.3,166.3 131.6,167.2C136.9,168.1 142.3,169 147.7,169.8C153,170.5 158.4,171.2 163.8,171.9C169.1,172.5 174.5,173 179.9,173.5C185.3,174 190.7,174.4 196.1,174.8C201.5,175.1 207,175.4 212.4,175.5C217.8,175.7 223.2,175.9 228.6,175.9C234,175.9 239.5,175.9 244.9,175.8C250.3,175.7 255.7,175.5 261.1,175.3C266.5,175.1 271.9,174.7 277.3,174.3C282.7,174 288.1,173.5 293.5,173C298.9,172.4 304.3,171.8 309.7,171.1C315,170.4 320.4,169.7 325.8,168.9C331.1,168 336.5,167.1 341.8,166.2C347.1,165.2 352.4,164.2 357.7,163C363,161.9 368.3,160.7 373.6,159.5C378.9,158.2 384.1,156.9 389.4,155.5C394.6,154.1 399.8,152.6 405,151.1C410.2,149.6 417.9,147.1 420.5,146.3"/>
<path d="M42.4,128.1C44.9,128.9 52.4,131.5 57.4,133C62.5,134.6 67.5,136.1 72.6,137.6C77.7,139 82.8,140.4 87.9,141.7C93,143 98.1,144.3 103.2,145.4C108.4,146.6 113.5,147.7 118.7,148.7C123.9,149.8 129.1,150.7 134.3,151.6C139.5,152.5 144.7,153.3 149.9,154.1C155.1,154.8 160.4,155.5 165.6,156.1C170.8,156.8 176.1,157.3 181.3,157.8C186.6,158.2 191.9,158.6 197.1,159C202.4,159.3 207.7,159.5 212.9,159.7C218.2,159.9 223.5,160 228.8,160.1C234,160.1 239.3,160.1 244.6,160C249.8,159.9 255.1,159.7 260.4,159.5C265.7,159.3 270.9,158.9 276.2,158.6C281.4,158.2 286.7,157.7 292,157.2C297.2,156.7 302.4,156.1 307.7,155.4C312.9,154.8 318.1,154 323.3,153.2C328.6,152.4 333.8,151.5 339,150.6C344.1,149.7 349.3,148.6 354.5,147.6C359.6,146.5 364.8,145.3 369.9,144.1C375.1,142.9 380.2,141.6 385.3,140.2C390.4,138.9 395.4,137.4 400.5,135.9C405.6,134.4 413.1,132 415.6,131.2"/>
<path d="M47.5,113.2C50,114 57.2,116.5 62.1,118.1C67,119.6 72,121.1 76.9,122.5C81.8,123.9 86.8,125.2 91.8,126.5C96.7,127.8 101.7,129 106.7,130.1C111.7,131.3 116.8,132.3 121.8,133.3C126.8,134.3 131.9,135.3 136.9,136.1C142,137 147.1,137.8 152.2,138.5C157.2,139.3 162.3,139.9 167.4,140.5C172.5,141.1 177.6,141.7 182.7,142.1C187.9,142.6 193,143 198.1,143.3C203.2,143.6 208.4,143.9 213.5,144C218.6,144.2 223.7,144.3 228.9,144.4C234,144.4 239.2,144.4 244.3,144.3C249.4,144.2 254.6,144 259.7,143.8C264.8,143.6 269.9,143.3 275.1,142.9C280.2,142.5 285.3,142.1 290.4,141.6C295.5,141.1 300.6,140.5 305.7,139.8C310.8,139.2 315.9,138.5 321,137.7C326,136.9 331.1,136.1 336.1,135.1C341.2,134.2 346.2,133.2 351.3,132.2C356.3,131.1 361.3,130 366.3,128.8C371.3,127.6 376.3,126.4 381.2,125C386.2,123.7 391.1,122.3 396,120.9C401,119.4 408.3,117.1 410.8,116.3"/>
<path d="M52.6,98.5C55,99.3 62.1,101.7 66.8,103.2C71.6,104.7 76.4,106.1 81.2,107.5C86,108.9 90.8,110.2 95.6,111.4C100.5,112.6 105.3,113.8 110.2,114.9C115.1,116 119.9,117.1 124.8,118C129.7,119 134.7,119.9 139.6,120.8C144.5,121.6 149.4,122.4 154.4,123.1C159.3,123.8 164.3,124.5 169.2,125C174.2,125.6 179.2,126.1 184.1,126.6C189.1,127 194.1,127.4 199.1,127.7C204.1,128 209,128.3 214,128.4C219,128.6 224,128.7 229,128.8C234,128.8 239,128.8 244,128.7C249,128.6 254,128.4 259,128.2C264,128 268.9,127.7 273.9,127.3C278.9,127 283.9,126.6 288.9,126.1C293.8,125.6 298.8,125 303.7,124.4C308.7,123.7 313.6,123 318.6,122.3C323.5,121.5 328.4,120.7 333.3,119.8C338.3,118.9 343.2,117.9 348.1,116.9C352.9,115.9 357.8,114.8 362.7,113.6C367.5,112.5 372.4,111.3 377.2,110C382,108.7 386.8,107.3 391.6,105.9C396.4,104.5 403.5,102.2 405.9,101.5"/>
<path d="M57.6,83.9C59.9,84.6 66.8,87 71.5,88.4C76.1,89.9 80.7,91.3 85.4,92.6C90.1,93.9 94.8,95.2 99.5,96.4C104.2,97.6 108.9,98.7 113.6,99.8C118.4,100.9 123.1,101.9 127.9,102.9C132.6,103.8 137.4,104.7 142.2,105.5C147,106.3 151.8,107.1 156.6,107.8C161.4,108.5 166.2,109.1 171,109.7C175.8,110.2 180.7,110.7 185.5,111.2C190.3,111.6 195.2,112 200,112.3C204.9,112.6 209.7,112.8 214.6,113C219.4,113.1 224.3,113.3 229.1,113.3C234,113.3 238.9,113.3 243.7,113.2C248.6,113.1 253.4,113 258.3,112.8C263.1,112.5 268,112.2 272.8,111.9C277.6,111.5 282.5,111.1 287.3,110.6C292.1,110.2 297,109.6 301.8,109C306.6,108.4 311.4,107.7 316.2,107C321,106.2 325.8,105.4 330.6,104.6C335.4,103.7 340.1,102.8 344.9,101.8C349.6,100.8 354.4,99.7 359.1,98.6C363.8,97.5 368.5,96.3 373.2,95C377.9,93.8 382.6,92.4 387.2,91.1C391.9,89.7 398.8,87.5 401.1,86.7"/>
<path d="M-10.9,375.5C-7.6,364.8 2.2,332.4 8.6,311.4C15,290.4 21.3,269.8 27.5,249.5C33.7,229.2 39.7,209.3 45.7,189.7C51.7,170 57.6,150.7 63.4,131.6C69.2,112.5 77.7,84.5 80.6,75.1"/>
<path d="M18.1,383.8C21,373 29.7,340.2 35.3,319C40.9,297.8 46.5,277 51.9,256.5C57.4,236 62.7,215.9 68,196C73.3,176.1 78.4,156.6 83.6,137.3C88.7,118.1 96.2,89.8 98.7,80.3"/>
<path d="M47.3,391C49.8,380.1 57.4,347 62.2,325.6C67.1,304.2 71.9,283.3 76.6,262.6C81.3,241.9 85.9,221.6 90.5,201.6C95,181.5 99.5,161.8 103.9,142.4C108.4,122.9 114.9,94.4 117,84.8"/>
<path d="M76.9,397.2C78.9,386.2 85.3,352.9 89.4,331.3C93.5,309.7 97.5,288.6 101.5,267.8C105.4,246.9 109.3,226.5 113.1,206.3C117,186.1 120.8,166.3 124.5,146.7C128.2,127.1 133.7,98.3 135.5,88.7"/>
<path d="M106.6,402.3C108.2,391.2 113.4,357.7 116.7,336C120,314.3 123.3,293 126.5,272.1C129.7,251.1 132.9,230.5 136,210.2C139.1,189.9 142.1,169.9 145.2,150.2C148.2,130.5 152.6,101.6 154.1,91.9"/>
<path d="M136.4,406.3C137.7,395.2 141.6,361.5 144.2,339.7C146.7,317.9 149.2,296.5 151.7,275.5C154.1,254.4 156.6,233.7 158.9,213.3C161.3,192.9 163.7,172.8 166,153C168.3,133.2 171.7,104.2 172.8,94.4"/>
<path d="M166.4,409.2C167.3,398.1 170,364.3 171.8,342.4C173.5,320.5 175.3,299.1 177,278C178.7,256.8 180.3,236.1 182,215.6C183.6,195.1 185.3,175 186.9,155.1C188.5,135.2 190.8,106 191.6,96.2"/>
<path d="M196.5,411.1C197,399.9 198.5,366.1 199.5,344.2C200.4,322.2 201.4,300.7 202.3,279.5C203.3,258.3 204.2,237.5 205.1,217C206,196.5 206.9,176.3 207.8,156.4C208.7,136.4 210,107.2 210.4,97.4"/>
<path d="M226.6,411.9C226.7,400.7 227,366.8 227.2,344.9C227.4,322.9 227.6,301.4 227.7,280.2C227.9,259 228.1,238.2 228.3,217.6C228.4,197.1 228.6,176.9 228.8,156.9C228.9,137 229.2,107.8 229.3,97.9"/>
<path d="M256.8,411.6C256.5,400.4 255.5,366.6 254.9,344.6C254.3,322.7 253.7,301.2 253.1,280C252.6,258.8 252,237.9 251.4,217.4C250.9,196.9 250.3,176.7 249.8,156.7C249.2,136.8 248.4,107.6 248.1,97.7"/>
<path d="M286.9,410.2C286.2,399.1 284,365.3 282.6,343.4C281.2,321.5 279.9,300 278.5,278.8C277.2,257.6 275.9,236.9 274.6,216.4C273.3,195.8 272,175.7 270.7,155.8C269.5,135.9 267.6,106.7 267,96.9"/>
<path d="M316.9,407.8C315.8,396.7 312.4,362.9 310.3,341.1C308.1,319.3 306,297.8 303.9,276.7C301.8,255.6 299.7,234.9 297.7,214.5C295.6,194 293.6,173.9 291.6,154.1C289.7,134.2 286.8,105.1 285.8,95.3"/>
<path d="M346.8,404.3C345.3,393.2 340.8,359.6 337.8,337.9C334.9,316.1 332,294.8 329.1,273.8C326.2,252.8 323.4,232.1 320.7,211.8C317.9,191.4 315.2,171.4 312.5,151.6C309.8,131.8 305.9,102.9 304.5,93.1"/>
<path d="M376.6,399.7C374.7,388.7 369,355.3 365.2,333.6C361.5,312 357.8,290.8 354.2,269.9C350.6,249 347.1,228.5 343.6,208.2C340.1,188 336.6,168.1 333.2,148.4C329.8,128.8 324.9,100 323.2,90.3"/>
<path d="M406.2,394C403.9,383.1 397,349.9 392.5,328.4C388,306.9 383.5,285.9 379.2,265.1C374.8,244.4 370.5,224 366.3,203.9C362.1,183.8 357.9,164 353.8,144.5C349.7,124.9 343.7,96.3 341.7,86.7"/>
<path d="M435.6,387.3C432.9,376.4 424.8,343.5 419.5,322.2C414.2,300.9 409,280 403.9,259.5C398.8,238.9 393.8,218.7 388.9,198.7C384,178.8 379.1,159.2 374.3,139.8C369.5,120.4 362.5,92.1 360.1,82.5"/>
<path d="M464.7,379.5C461.7,368.8 452.3,336.2 446.3,315.1C440.3,294 434.3,273.3 428.5,252.9C422.7,232.5 416.9,212.5 411.3,192.7C405.6,173 400.1,153.6 394.6,134.4C389.1,115.2 381,87.1 378.3,77.6"/>
</g>
<path d="M333,185.2C333.3,185.2 332.2,184.6 331.7,184.4C331.2,184.2 329.7,183.8 328.9,183.6C328.1,183.4 325.5,182.7 324.5,182.6C323.5,182.5 321.3,182.5 320.4,182.7C319.5,182.9 317.4,183.6 316.5,184C315.6,184.4 313.8,185.3 313.1,186.1C312.4,186.9 311.3,189.7 310.7,190.9C310.1,192.1 308.2,195.1 307.6,196.4C307,197.7 305.7,200.7 305.2,201.9C304.7,203.1 303.7,205.6 303.4,206.7C303.1,207.8 302.9,209.9 302.8,211C302.7,212.1 302.4,214.3 302.2,215.8C302,217.3 301.3,222.5 301.1,224.2C300.9,225.9 300.6,228.9 300.6,230.4C300.6,231.9 300.9,235.1 301.1,236.7C301.3,238.3 301.8,242.4 302.2,244C302.6,245.6 303.8,248.9 304.3,250.2C304.8,251.5 305.9,254.7 306.5,255.5C307.1,256.3 308.7,257.2 309.4,257.4C310.1,257.6 311.8,257.1 312.5,256.8C313.2,256.5 314.6,255.6 315.2,255C315.8,254.4 316.8,252.4 317.3,251.2C317.8,250.1 319.1,246.5 319.4,245C319.7,243.5 319.9,240.2 319.9,238.8C319.9,237.3 319.7,234 319.4,232.5C319.1,231 317.7,227.6 317.3,226.2C316.9,224.9 316,222.3 315.8,221C315.6,219.7 315.5,216.4 315.5,215C315.5,213.6 316,210.3 316.1,209.2C316.2,208.1 316.3,206.2 316.7,205.5C317.1,204.8 318.6,203.7 319.2,203.1C319.8,202.5 321.8,201.1 322.2,200.5C322.6,199.9 321.9,198.1 322.2,197.6C322.5,197.1 324.1,196.4 324.7,195.8C325.3,195.2 326.9,193.1 327.1,192.2C327.3,191.3 326.5,188.6 326.5,187.9C326.5,187.2 327.1,186.4 327.5,186C327.9,185.6 328.9,184.9 329.5,184.8C330.1,184.7 332.7,185.2 333,185.2Z" fill="#fff" stroke="#1a1a1a" stroke-width="0.75"/>
<path d="M310.5,188 308,188.4 304.6,189.1 302.2,192.2 300.3,198.2 299.1,203.1 296.7,209.2 296.1,211 298.5,209.6 302.2,205.5 304.6,200.1 307,195.2 309.5,190.3Z" fill="#fff" stroke="#1a1a1a" stroke-width="0.6"/>
<path d="M322,197.3 323.2,199.5 323.9,202.3 324.6,202 324.2,199 323.4,196.8Z" fill="#fff" stroke="#222" stroke-width="0.5"/>
<ellipse cx="218.5" cy="156.7" rx="3.8" ry="1.6" transform="rotate(-20 218.5 156.7)" fill="#fff" stroke="#333" stroke-width="0.5"/>
<ellipse cx="233" cy="186.5" rx="1.6" ry="1.9" transform="rotate(0 233 186.5)" fill="#fff" stroke="#333" stroke-width="0.5"/>
<ellipse cx="292.2" cy="220" rx="1.0" ry="3.0" transform="rotate(0 292.2 220)" fill="#fff" stroke="#333" stroke-width="0.5"/>
<ellipse cx="220" cy="166.5" rx="0.8" ry="0.8" transform="rotate(0 220 166.5)" fill="#fff" stroke="#333" stroke-width="0.5"/>
<ellipse cx="225.5" cy="166.2" rx="1.0" ry="1.0" transform="rotate(0 225.5 166.2)" fill="#fff" stroke="#333" stroke-width="0.5"/>
<ellipse cx="223.5" cy="163.5" rx="1.2" ry="0.9" transform="rotate(0 223.5 163.5)" fill="#fff" stroke="#333" stroke-width="0.5"/>
<circle cx="321.6" cy="189.4" r="0.75" fill="#111"/><!--Beaver-->
<circle cx="96.9" cy="232.6" r="0.6" fill="#111"/><circle cx="107.3" cy="312.3" r="0.6" fill="#111"/><path d="M129,259.6L131.8,261.4" stroke="#111" stroke-width="0.9"/>
<path d="M116.5,129.3 139.1,132.5 160.8,135.8 178.2,138.2 195.6,140.4 205,141.2 214.6,141.8 220.6,144 225.8,146 232,148.1 236.3,148.6 240.4,149.7 244.6,151.3 248.8,153.3 254,155.9 259.2,154.4 263.3,155.9 269.6,156.7 272.5,156.7 266,160.6 260.8,164.8 255.6,170 251.5,175.2 249.4,178.1 253.5,177.3 257.7,176.2 261.4,174.5 262.4,178.3 265,179.4 269.2,179.4 273.3,176.2 278.5,175.2 283.8,171 285.8,169 289,165.8 292,163.5 294.2,163.8 291,165.8 288.4,170 289,172 294.2,173.1 298.3,175.2 302.5,177.3 306.2,177.1 310.4,175.5 315.6,173.4 320.8,171.9 324.5,170.8 325.5,173.4 328.1,175 331.2,174.5 334.4,175 336.5,176.6 339.6,179.2 343.8,180.7 344,181.8 339.6,181.9 334.4,182.5 330.2,183.4 329.5,184.8 334.4,185.4 339.6,187 343.8,189.6 346.4,191.7 347.9,195.8 348.5,201.2 347.5,207.5 344.9,213.2 345.4,218 348.5,219 351.7,213.8 354.8,210.6 357.9,211.7 360,215.8 362,222 363.4,225.4 363.9,231.7 360.7,235.4 359.8,239 358,242.6 356.2,248.9 361.6,251.2 366.1,252.5 370.6,251.2 374.3,250.3" fill="none" stroke="#1a1a1a" stroke-width="0.8" stroke-linejoin="round"/>
<g fill="none" stroke="#141414" stroke-width="1.0" stroke-linejoin="round" stroke-linecap="round" clip-path="url(#mRf)">
<path d="M127.3,131.7 115.8,196 109.8,228 103.3,260.6"/>
<path d="M104.3,193.2 115.6,195.2"/>
<path d="M118,180.2 140,183 160,185.7 182,188.4 199.3,190.4"/>
<path d="M109.6,228.5 130,231.3 150,233.9 172.4,236.5"/>
<path d="M165.4,220.3 164.4,224.5 167.7,230.2 172.4,236.5 176,239.5 180.2,241.1 184,240 188.5,240.1 192,242.5 195.8,244.8"/>
<path d="M89.6,258 103.3,260.6 127.4,265.2"/>
<path d="M127.4,265.2 126.1,282.1 122.8,305 118.2,333.4"/>
<path d="M125.9,282.2 150,285 174,287.8 209.6,289.8"/>
<path d="M195.8,244.8 197,246.5 199,250 201.1,252.7 202,258 203.3,265.4 205.4,278.1 207.5,284 209.6,289.8 213.9,293 214.9,299.3 218.1,303.6 219.2,304"/>
<path d="M219.2,303.6 219.2,350.2"/>
<path d="M76.9,326.2 118.5,333.2 158.8,338.5 201.1,341.7 219.2,342.8"/>
<path d="M219.2,350.2 230,350.8 255,350.3 279.6,349.7"/>
<path d="M279.6,349.7 280.7,354.1 278.5,358.5 277.4,362"/>
<path d="M104.8,331.6 103.8,340 101.3,352 100.8,361"/>
<path d="M103.8,339.8 144.3,346.2 143.8,352.5"/>
<path d="M198.4,230.2 230,231 260.6,231.4"/>
<path d="M199.3,190.4 196.9,196.9 200,204.2 200,229.2 198.4,230.2 197.9,234.4 196.5,240 195.8,244.8"/>
<path d="M195.6,140.4 196.5,150 197.3,156.3 198.7,173.6 199.3,190.4"/>
<path d="M249.4,178.1 246.9,180.2 247.9,187.5 242.7,195.8 243.8,204.2 248,208.5 252,212.5 258.3,220.8 260.4,231.2"/>
<path d="M260.4,231.2 261.6,236.9 264.5,241 267.4,244.9 273.1,250.6 274.2,257.5 271.9,262 265.1,265.5 263.9,272.4 261.6,278.1 258.7,281.3 260.9,288 264.2,294.6 269.7,301.2 275.2,306.7 276.8,311.1 277.4,315.5 280.7,321 285.2,326.5 287.8,331 290,334.3 292.9,338.2 294,340.9 291.8,345.3 289.6,348.6 288.5,353 286.9,357.4 286.3,362"/>
<path d="M207.5,283.5 225,279.6 245,280.5 259.3,281.5"/>
<path d="M266.2,246 285,245.6 302.6,244.9"/>
<path d="M261.9,179.4 269.2,180.4 276.5,183.5 283.8,185.6 290,187.3 293.6,189.1 296.1,192.2 296.7,195.8 298.5,198.2 299.6,201.2"/>
<path d="M307.7,257 308.3,279.1 309.4,299 311.2,307.8 310.5,314.4 309.4,320 307.2,323.2 306.1,324.3"/>
<path d="M292.9,338.2 296.2,336.9 300.6,336.9 303.9,333.8 305,328.8 305.5,324 309.4,321.5 313.8,319.9 317.1,321 320.4,318.8 323.8,319.3 327.1,316.6 329.3,317.7 331.5,314.4 334.8,312.2 335.9,308.9 338.1,307.8 340.3,305.6 341.4,303.4 343.6,301.2 345.8,297.9 349.1,297.9 352.4,300.1 355.7,299 359,301.2 362.4,301.2 365.7,299.4 369,299 371.2,301.2 373.4,301.2 375.6,299.4 377.8,299 378.9,296.3 380,294.1 381.8,292.8 383,291.5"/>
<path d="M315.5,254.9 340.3,252.2 356.2,250.3"/>
<path d="M340.3,252.2 342.5,275 345.8,299"/>
<path d="M377.8,300.5 375.6,305.6 380,310 384,314.5 386.6,317.7"/>
<path d="M386.6,317.7 380,325.4 371.2,332 366.8,336.5"/>
<path d="M290.7,349.7 305,347.5 340,342.5 366.8,336.5 392,332.8"/>
<path d="M306.5,337.6 307.5,342 306.8,347 308,352 307,356"/>
<path d="M309.5,339 310.5,344 309.2,350 310.5,356"/>
<path d="M380,345.3 384,343.5 387,341 392,339.5"/>
</g>
<g fill="none" stroke="#111" stroke-width="1.1" stroke-linejoin="round">
<path d="M126.1,145.6 127.5,145.2 129.4,146.7 131.5,146 133,147.5 134.8,147.3 137,148.8 139.1,149.9 139.5,151.5 140.2,153.2 142.4,154.3 143.5,156.4 145.6,158.2 148.9,159 150.5,158.2 152.2,158.2"/>
<path d="M156.1,174.2 156.9,178.1 156.5,181 156.5,184.6 154.8,187.9 157.6,191.2 155.4,194.4 153.2,196.6 156.1,198.8 154.3,200.9 150,203.1 146.7,205.3 151.1,206.4 152.2,208.5 153.9,210.7"/>
</g>
<g fill="none" stroke="#111" stroke-width="1.6" stroke-linecap="round">
<path d="M232,144.5 235,146 238,147.2 241,148.2 243.5,149.8"/>
<path d="M253.2,142.6 254.8,143.4"/>
</g>
<g fill="none" stroke="#151515" stroke-width="0.85" stroke-linejoin="round">
<path d="M272.5,156.7 275.2,152.8 277.8,148.9 280.4,146.2 283,143.6 285.6,140.4 288.2,138.4 290.8,139.1 293.4,141 297.3,141.7 301.2,141 305.2,140.4 307.8,142.3 309,146.2 311.7,149.5 314.3,152.1 318.2,152.8 322,151.5 324,152.8 323.4,156.7 324.7,160 327.3,161.9 328,165.8 330,167.1 331.2,169.7 330.5,173 332.5,173.6 335.1,175 340.3,176 348.1,175.5 354,175.2 359.8,175.2"/>
<path d="M337.7,178.8 342.9,180.1 350.7,180.1 358.5,178.8"/>
<path d="M346.8,181.4 354,182.5 361.1,184"/>
<path d="M285.6,149.5 300,156.5 315,162.5 327.3,168.4 328.5,170.5"/>
<path d="M342.2,182.2 354.7,188.4 356.2,193.1 360.2,202.5 364,211.9 366.4,216.6 366,222.8 364.8,225.9"/>
<path d="M362.5,235.3 367,236 371.9,237.6"/>
<path d="M361,243 366,243.5 371.9,244.7"/>
<path d="M362.5,249.4 368,249.5 373.4,250.2"/>
<path d="M216.2,141.6 215.6,138.5 217,135.5 219.5,134.8 221,136.5 220.5,139.5 218.5,141.5 216.2,141.6"/>
<path d="M221.5,131.5 224,130.5 226.5,132.5 227.5,136 225.5,138.5 223,137.5 221.8,134.5 221.5,131.5"/>
<path d="M219,142.8 221.5,140.5 224.5,140 226.8,141.5 224.5,143.3 221.5,143.6"/>
<path d="M221.6,125.5 222,128.5 222.3,131.5"/>
<path d="M224.5,132.5 225.5,135.5"/>
<path d="M313,156 316,155.4"/>
<path d="M278,125 280,123 282,126 284,123.5 286.5,124 287.5,127 288,131 286,133 283,132.5 280,133 278,130.5 278,125"/>
<path d="M280,127 284,128"/>
<path d="M281,130 285,130.5"/>
<path d="M285,125 285.5,129"/>
<path d="M276.5,157.5 279,155 283,152.2 285.5,150.8 284.5,152.8 281,155.5 277.5,158 276.5,157.5"/>
<path d="M284,142.5 286,139.8 288,140.5 287,142.5 285,143.2 284,142.5"/>
<path d="M288.5,141 290.5,139 292.2,139.6 291,141.5 288.5,141"/>
<path d="M279.5,146 282,143.5 283.5,144.5"/>
</g>
<rect x="76" y="352.6" width="113" height="7.4" fill="#fff"/>
<text x="78.3" y="358.8" font-family="DejaVu Sans, sans-serif" font-size="7" fill="#2a2a2a" textLength="109" lengthAdjust="spacingAndGlyphs" style="word-spacing:1.5px">(C) Midwestern Regional Climate Center</text></g><!--endR-->
<g id="cbR">
<rect x="558.20" y="376.4" width="33.90" height="9.1" fill="#fefe9e" stroke="#333" stroke-width="0.5"/>
<rect x="592.10" y="376.4" width="33.90" height="9.1" fill="#65f962" stroke="#333" stroke-width="0.5"/>
<rect x="626.00" y="376.4" width="33.90" height="9.1" fill="#50c050" stroke="#333" stroke-width="0.5"/>
<rect x="659.90" y="376.4" width="33.90" height="9.1" fill="#1a9e1a" stroke="#333" stroke-width="0.5"/>
<rect x="693.80" y="376.4" width="33.90" height="9.1" fill="#0a7a0a" stroke="#333" stroke-width="0.5"/>
<rect x="727.70" y="376.4" width="33.90" height="9.1" fill="#1e73b4" stroke="#333" stroke-width="0.5"/>
<text class="g" x="558.2" y="394.8" font-size="8.5" text-anchor="middle">−10</text>
<text class="g" x="592.1" y="394.8" font-size="8.5" text-anchor="middle">0</text>
<text class="g" x="626.0" y="394.8" font-size="8.5" text-anchor="middle">10</text>
<text class="g" x="659.9" y="394.8" font-size="8.5" text-anchor="middle">20</text>
<text class="g" x="693.8" y="394.8" font-size="8.5" text-anchor="middle">30</text>
<text class="g" x="727.7" y="394.8" font-size="8.5" text-anchor="middle">40</text>
<text class="g" x="761.6" y="394.8" font-size="8.5" text-anchor="middle">50</text>
<text class="g" x="659.7" y="364.6" font-size="8.2" text-anchor="middle" textLength="95" lengthAdjust="spacingAndGlyphs">Mean period is 1991-2020.</text>
<text class="g" x="660" y="413.5" font-size="8.6" text-anchor="middle" textLength="145" lengthAdjust="spacingAndGlyphs">Midwestern Regional Climate Center</text>
<text class="g" x="660" y="427" font-size="8.6" text-anchor="middle" textLength="189" lengthAdjust="spacingAndGlyphs">cli-MATE: MRCC Application Tools Environment</text>
<text class="g" x="660" y="439.5" font-size="8.6" text-anchor="middle" textLength="176" lengthAdjust="spacingAndGlyphs">Generated at: 1/16/2026 8:19:59 PM CST</text>
</g>
<rect x="501" y="110.5" width="318" height="246.5" fill="none" stroke="#333" stroke-width="1"/>

<!-- caption -->
<g id="caption" font-family="Liberation Sans, sans-serif" font-size="16.5" font-weight="bold" font-style="italic" fill="#0a0a14">
<text x="51.10" y="491" textLength="69.70" lengthAdjust="spacingAndGlyphs">Snowfall</text>
<text x="124.00" y="491" textLength="33.70" lengthAdjust="spacingAndGlyphs">was</text>
<text x="160.10" y="491" textLength="51.20" lengthAdjust="spacingAndGlyphs">above</text>
<text x="213.80" y="491" textLength="57.60" lengthAdjust="spacingAndGlyphs">normal</text>
<text x="275.60" y="491" textLength="35.80" lengthAdjust="spacingAndGlyphs">over</text>
<text x="314.60" y="491" textLength="71.70" lengthAdjust="spacingAndGlyphs">northern</text>
<text x="390.10" y="491" textLength="76.40" lengthAdjust="spacingAndGlyphs">Michigan</text>
<text x="474.40" y="491" textLength="31.10" lengthAdjust="spacingAndGlyphs">and</text>
<text x="507.80" y="491" textLength="39.70" lengthAdjust="spacingAndGlyphs">even</text>
<text x="551.10" y="491" textLength="41.65" lengthAdjust="spacingAndGlyphs">more</text>
<text x="595.80" y="491" textLength="18.30" lengthAdjust="spacingAndGlyphs">so</text>
<text x="618.30" y="491" textLength="27.70" lengthAdjust="spacingAndGlyphs">the</text>
<text x="648.80" y="491" textLength="61.70" lengthAdjust="spacingAndGlyphs">eastern</text>
<text x="713.00" y="491" textLength="48.10" lengthAdjust="spacingAndGlyphs">upper</text>
<text x="765.50" y="491" textLength="83.60" lengthAdjust="spacingAndGlyphs">Peninsula.</text>
<text x="852.50" y="491" textLength="37.70" lengthAdjust="spacingAndGlyphs">Most</text>
<text x="893.80" y="491" textLength="18.80" lengthAdjust="spacingAndGlyphs">of</text>
<text x="29.10" y="514" textLength="26.20" lengthAdjust="spacingAndGlyphs">the</text>
<text x="59.50" y="514" textLength="37.80" lengthAdjust="spacingAndGlyphs">area</text>
<text x="100.50" y="514" textLength="46.50" lengthAdjust="spacingAndGlyphs">south</text>
<text x="150.20" y="514" textLength="17.70" lengthAdjust="spacingAndGlyphs">of</text>
<text x="170.70" y="514" textLength="26.55" lengthAdjust="spacingAndGlyphs">the</text>
<text x="201.00" y="514" textLength="44.20" lengthAdjust="spacingAndGlyphs">Great</text>
<text x="250.40" y="514" textLength="44.35" lengthAdjust="spacingAndGlyphs">Lakes</text>
<text x="298.80" y="514" textLength="29.70" lengthAdjust="spacingAndGlyphs">had</text>
<text x="331.80" y="514" textLength="35.70" lengthAdjust="spacingAndGlyphs">very</text>
<text x="369.90" y="514" textLength="39.50" lengthAdjust="spacingAndGlyphs">little</text>
<text x="413.60" y="514" textLength="41.50" lengthAdjust="spacingAndGlyphs">snow</text>
<text x="460.00" y="514" textLength="14.75" lengthAdjust="spacingAndGlyphs">in</text>
<text x="478.80" y="514" textLength="85.50" lengthAdjust="spacingAndGlyphs">December.</text>
</g>
<text x="967.6" y="547.4" font-family="Liberation Sans, sans-serif" font-size="20" font-weight="bold" fill="#fff" textLength="22.6" lengthAdjust="spacingAndGlyphs" filter="url(#nsh)">19</text>
</svg>
</body></html>
